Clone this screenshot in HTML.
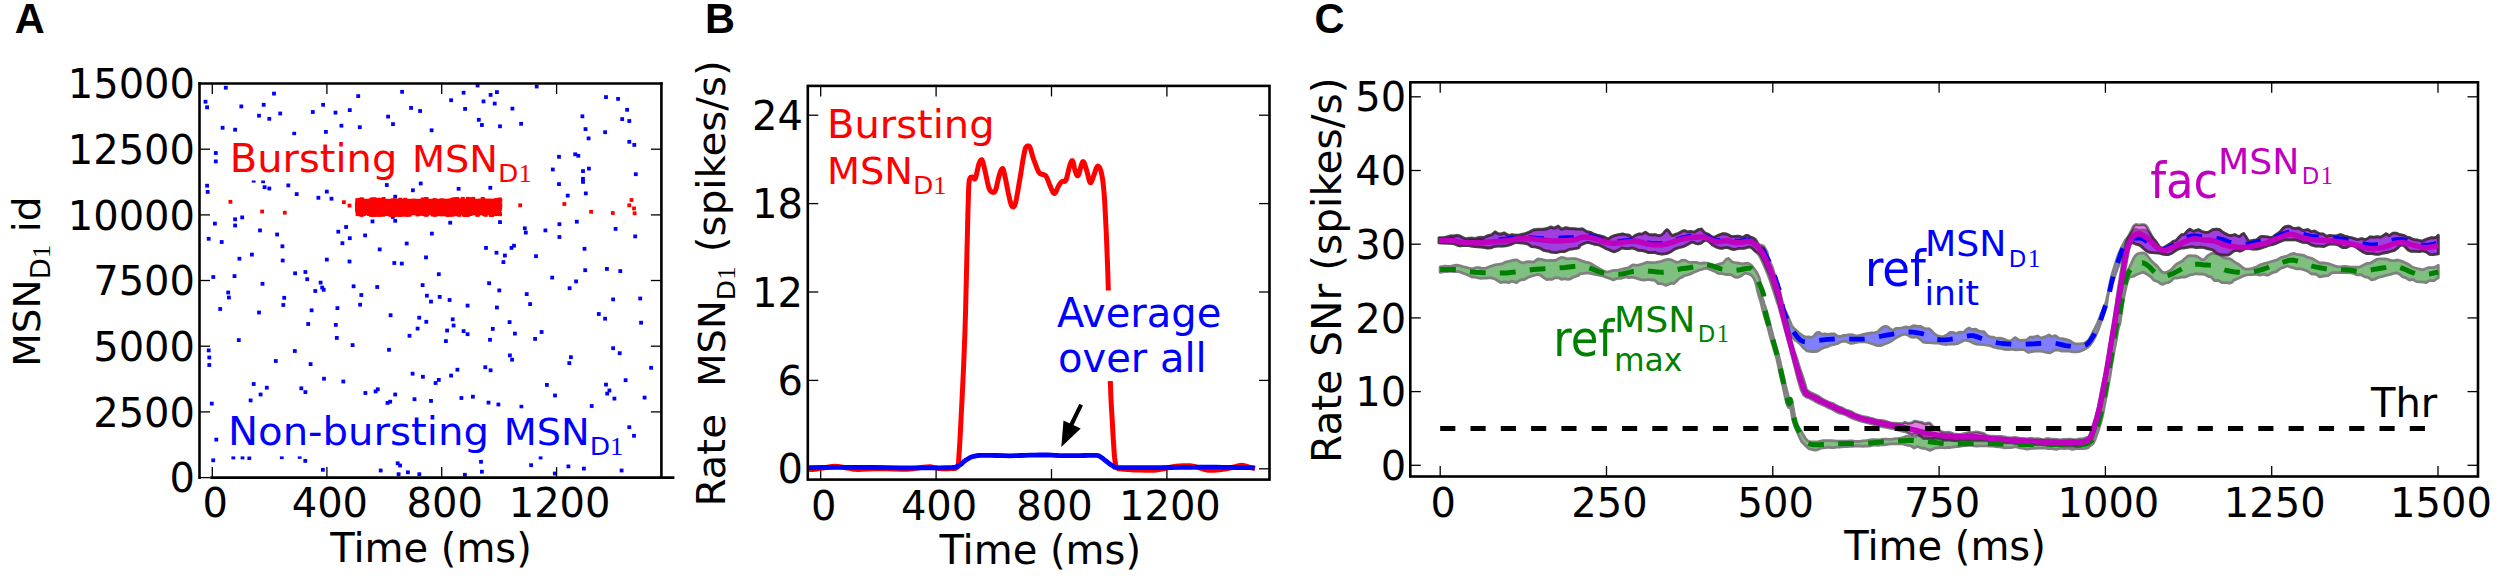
<!DOCTYPE html>
<html lang="en"><head><meta charset="utf-8"><title>Figure</title>
<style>html,body{margin:0;padding:0;background:#fff;}body{width:2500px;height:579px;overflow:hidden;}svg{display:block;}</style>
</head><body>
<svg width="2500" height="579" viewBox="0 0 2500 579" font-family='"DejaVu Sans", "Liberation Sans", sans-serif' font-size="40">
<rect width="2500" height="579" fill="#fff"/>
<g id="panelA">
<g fill="#0000ff">
<rect x="223.9" y="85.8" width="3.8" height="3.8"/>
<rect x="272.1" y="91.7" width="3.8" height="3.8"/>
<rect x="203.6" y="99.8" width="3.8" height="3.8"/>
<rect x="205.2" y="105.4" width="3.8" height="3.8"/>
<rect x="239.4" y="104.5" width="3.8" height="3.8"/>
<rect x="261.8" y="102.9" width="3.8" height="3.8"/>
<rect x="257.1" y="113.8" width="3.8" height="3.8"/>
<rect x="267.4" y="116.9" width="3.8" height="3.8"/>
<rect x="278.3" y="111.6" width="3.8" height="3.8"/>
<rect x="220.7" y="125.9" width="3.8" height="3.8"/>
<rect x="233.2" y="127.8" width="3.8" height="3.8"/>
<rect x="292.3" y="131.8" width="3.8" height="3.8"/>
<rect x="310.9" y="110.1" width="3.8" height="3.8"/>
<rect x="321.2" y="102.9" width="3.8" height="3.8"/>
<rect x="333.6" y="110.7" width="3.8" height="3.8"/>
<rect x="347.9" y="108.2" width="3.8" height="3.8"/>
<rect x="356.3" y="94.2" width="3.8" height="3.8"/>
<rect x="339.5" y="123.8" width="3.8" height="3.8"/>
<rect x="357.9" y="125.3" width="3.8" height="3.8"/>
<rect x="324.0" y="130.0" width="3.8" height="3.8"/>
<rect x="386.2" y="114.7" width="3.8" height="3.8"/>
<rect x="391.1" y="122.2" width="3.8" height="3.8"/>
<rect x="400.2" y="89.9" width="3.8" height="3.8"/>
<rect x="409.2" y="106.0" width="3.8" height="3.8"/>
<rect x="418.2" y="109.1" width="3.8" height="3.8"/>
<rect x="429.7" y="128.4" width="3.8" height="3.8"/>
<rect x="213.9" y="151.1" width="3.8" height="3.8"/>
<rect x="213.9" y="159.5" width="3.8" height="3.8"/>
<rect x="205.2" y="183.8" width="3.8" height="3.8"/>
<rect x="205.8" y="190.0" width="3.8" height="3.8"/>
<rect x="262.7" y="185.3" width="3.8" height="3.8"/>
<rect x="267.4" y="186.6" width="3.8" height="3.8"/>
<rect x="286.4" y="183.5" width="3.8" height="3.8"/>
<rect x="294.8" y="192.2" width="3.8" height="3.8"/>
<rect x="316.5" y="195.9" width="3.8" height="3.8"/>
<rect x="324.9" y="189.7" width="3.8" height="3.8"/>
<rect x="329.6" y="196.8" width="3.8" height="3.8"/>
<rect x="384.9" y="183.1" width="3.8" height="3.8"/>
<rect x="411.0" y="188.4" width="3.8" height="3.8"/>
<rect x="418.8" y="181.6" width="3.8" height="3.8"/>
<rect x="213.0" y="221.7" width="3.8" height="3.8"/>
<rect x="233.2" y="217.4" width="3.8" height="3.8"/>
<rect x="233.2" y="223.6" width="3.8" height="3.8"/>
<rect x="240.3" y="215.5" width="3.8" height="3.8"/>
<rect x="258.1" y="228.5" width="3.8" height="3.8"/>
<rect x="275.2" y="232.6" width="3.8" height="3.8"/>
<rect x="206.8" y="236.9" width="3.8" height="3.8"/>
<rect x="219.8" y="240.1" width="3.8" height="3.8"/>
<rect x="280.5" y="244.4" width="3.8" height="3.8"/>
<rect x="336.4" y="229.8" width="3.8" height="3.8"/>
<rect x="344.2" y="225.1" width="3.8" height="3.8"/>
<rect x="340.5" y="241.3" width="3.8" height="3.8"/>
<rect x="347.9" y="236.3" width="3.8" height="3.8"/>
<rect x="363.2" y="233.5" width="3.8" height="3.8"/>
<rect x="370.6" y="219.5" width="3.8" height="3.8"/>
<rect x="393.3" y="218.9" width="3.8" height="3.8"/>
<rect x="404.8" y="241.6" width="3.8" height="3.8"/>
<rect x="430.0" y="231.7" width="3.8" height="3.8"/>
<rect x="377.8" y="247.5" width="3.8" height="3.8"/>
<rect x="251.8" y="178.8" width="3.8" height="3.8"/>
<rect x="261.2" y="179.4" width="3.8" height="3.8"/>
<rect x="475.7" y="83.6" width="3.8" height="3.8"/>
<rect x="534.8" y="84.6" width="3.8" height="3.8"/>
<rect x="461.7" y="90.8" width="3.8" height="3.8"/>
<rect x="449.2" y="98.3" width="3.8" height="3.8"/>
<rect x="463.2" y="107.0" width="3.8" height="3.8"/>
<rect x="481.6" y="99.5" width="3.8" height="3.8"/>
<rect x="488.7" y="93.0" width="3.8" height="3.8"/>
<rect x="495.0" y="90.2" width="3.8" height="3.8"/>
<rect x="492.8" y="101.7" width="3.8" height="3.8"/>
<rect x="510.5" y="106.7" width="3.8" height="3.8"/>
<rect x="476.9" y="117.9" width="3.8" height="3.8"/>
<rect x="480.0" y="123.1" width="3.8" height="3.8"/>
<rect x="498.1" y="124.4" width="3.8" height="3.8"/>
<rect x="519.2" y="121.9" width="3.8" height="3.8"/>
<rect x="604.1" y="95.2" width="3.8" height="3.8"/>
<rect x="616.2" y="97.0" width="3.8" height="3.8"/>
<rect x="625.2" y="107.9" width="3.8" height="3.8"/>
<rect x="580.5" y="114.4" width="3.8" height="3.8"/>
<rect x="620.3" y="117.2" width="3.8" height="3.8"/>
<rect x="627.4" y="119.1" width="3.8" height="3.8"/>
<rect x="583.6" y="127.2" width="3.8" height="3.8"/>
<rect x="603.2" y="130.3" width="3.8" height="3.8"/>
<rect x="586.7" y="136.5" width="3.8" height="3.8"/>
<rect x="627.4" y="139.9" width="3.8" height="3.8"/>
<rect x="632.4" y="143.0" width="3.8" height="3.8"/>
<rect x="557.1" y="154.9" width="3.8" height="3.8"/>
<rect x="573.3" y="152.4" width="3.8" height="3.8"/>
<rect x="576.4" y="153.9" width="3.8" height="3.8"/>
<rect x="550.9" y="167.6" width="3.8" height="3.8"/>
<rect x="581.1" y="169.2" width="3.8" height="3.8"/>
<rect x="587.0" y="166.7" width="3.8" height="3.8"/>
<rect x="581.1" y="176.9" width="3.8" height="3.8"/>
<rect x="581.1" y="180.0" width="3.8" height="3.8"/>
<rect x="633.9" y="172.3" width="3.8" height="3.8"/>
<rect x="557.1" y="182.2" width="3.8" height="3.8"/>
<rect x="583.9" y="191.5" width="3.8" height="3.8"/>
<rect x="565.8" y="193.7" width="3.8" height="3.8"/>
<rect x="456.7" y="186.9" width="3.8" height="3.8"/>
<rect x="488.4" y="185.9" width="3.8" height="3.8"/>
<rect x="448.3" y="220.8" width="3.8" height="3.8"/>
<rect x="498.1" y="220.2" width="3.8" height="3.8"/>
<rect x="522.9" y="226.4" width="3.8" height="3.8"/>
<rect x="523.9" y="230.7" width="3.8" height="3.8"/>
<rect x="543.5" y="228.5" width="3.8" height="3.8"/>
<rect x="557.5" y="222.3" width="3.8" height="3.8"/>
<rect x="557.5" y="235.1" width="3.8" height="3.8"/>
<rect x="574.9" y="219.8" width="3.8" height="3.8"/>
<rect x="613.7" y="227.0" width="3.8" height="3.8"/>
<rect x="633.3" y="234.5" width="3.8" height="3.8"/>
<rect x="484.1" y="246.0" width="3.8" height="3.8"/>
<rect x="509.6" y="246.0" width="3.8" height="3.8"/>
<rect x="512.1" y="243.8" width="3.8" height="3.8"/>
<rect x="582.6" y="246.9" width="3.8" height="3.8"/>
<rect x="250.0" y="252.7" width="3.8" height="3.8"/>
<rect x="237.5" y="256.8" width="3.8" height="3.8"/>
<rect x="280.8" y="258.6" width="3.8" height="3.8"/>
<rect x="324.9" y="257.7" width="3.8" height="3.8"/>
<rect x="347.6" y="259.6" width="3.8" height="3.8"/>
<rect x="392.4" y="261.1" width="3.8" height="3.8"/>
<rect x="399.9" y="261.7" width="3.8" height="3.8"/>
<rect x="424.1" y="255.5" width="3.8" height="3.8"/>
<rect x="211.4" y="275.1" width="3.8" height="3.8"/>
<rect x="232.6" y="274.2" width="3.8" height="3.8"/>
<rect x="293.2" y="271.4" width="3.8" height="3.8"/>
<rect x="303.5" y="270.1" width="3.8" height="3.8"/>
<rect x="305.3" y="277.3" width="3.8" height="3.8"/>
<rect x="318.7" y="280.7" width="3.8" height="3.8"/>
<rect x="320.3" y="285.7" width="3.8" height="3.8"/>
<rect x="321.8" y="287.9" width="3.8" height="3.8"/>
<rect x="313.4" y="289.1" width="3.8" height="3.8"/>
<rect x="260.6" y="281.9" width="3.8" height="3.8"/>
<rect x="351.7" y="284.4" width="3.8" height="3.8"/>
<rect x="375.3" y="285.1" width="3.8" height="3.8"/>
<rect x="420.7" y="283.2" width="3.8" height="3.8"/>
<rect x="436.9" y="272.3" width="3.8" height="3.8"/>
<rect x="226.3" y="290.6" width="3.8" height="3.8"/>
<rect x="227.0" y="295.6" width="3.8" height="3.8"/>
<rect x="282.3" y="295.9" width="3.8" height="3.8"/>
<rect x="281.4" y="303.1" width="3.8" height="3.8"/>
<rect x="359.4" y="293.1" width="3.8" height="3.8"/>
<rect x="358.2" y="302.8" width="3.8" height="3.8"/>
<rect x="425.0" y="293.8" width="3.8" height="3.8"/>
<rect x="429.1" y="299.7" width="3.8" height="3.8"/>
<rect x="437.8" y="295.0" width="3.8" height="3.8"/>
<rect x="218.3" y="307.1" width="3.8" height="3.8"/>
<rect x="257.1" y="310.6" width="3.8" height="3.8"/>
<rect x="309.7" y="308.4" width="3.8" height="3.8"/>
<rect x="335.5" y="306.2" width="3.8" height="3.8"/>
<rect x="388.7" y="313.3" width="3.8" height="3.8"/>
<rect x="417.3" y="315.8" width="3.8" height="3.8"/>
<rect x="424.4" y="319.9" width="3.8" height="3.8"/>
<rect x="306.3" y="322.1" width="3.8" height="3.8"/>
<rect x="333.9" y="323.0" width="3.8" height="3.8"/>
<rect x="415.7" y="326.7" width="3.8" height="3.8"/>
<rect x="407.6" y="333.9" width="3.8" height="3.8"/>
<rect x="236.9" y="338.2" width="3.8" height="3.8"/>
<rect x="334.9" y="336.0" width="3.8" height="3.8"/>
<rect x="350.7" y="343.2" width="3.8" height="3.8"/>
<rect x="292.9" y="349.1" width="3.8" height="3.8"/>
<rect x="387.1" y="347.9" width="3.8" height="3.8"/>
<rect x="206.8" y="348.5" width="3.8" height="3.8"/>
<rect x="207.4" y="355.6" width="3.8" height="3.8"/>
<rect x="207.4" y="363.1" width="3.8" height="3.8"/>
<rect x="273.9" y="359.1" width="3.8" height="3.8"/>
<rect x="308.7" y="362.2" width="3.8" height="3.8"/>
<rect x="322.1" y="376.8" width="3.8" height="3.8"/>
<rect x="341.4" y="379.6" width="3.8" height="3.8"/>
<rect x="410.7" y="371.8" width="3.8" height="3.8"/>
<rect x="421.0" y="374.9" width="3.8" height="3.8"/>
<rect x="433.7" y="381.1" width="3.8" height="3.8"/>
<rect x="436.9" y="378.0" width="3.8" height="3.8"/>
<rect x="251.8" y="382.1" width="3.8" height="3.8"/>
<rect x="264.9" y="385.8" width="3.8" height="3.8"/>
<rect x="299.4" y="386.4" width="3.8" height="3.8"/>
<rect x="303.5" y="390.2" width="3.8" height="3.8"/>
<rect x="258.7" y="392.6" width="3.8" height="3.8"/>
<rect x="363.5" y="391.1" width="3.8" height="3.8"/>
<rect x="373.7" y="389.5" width="3.8" height="3.8"/>
<rect x="375.9" y="387.4" width="3.8" height="3.8"/>
<rect x="393.3" y="392.6" width="3.8" height="3.8"/>
<rect x="248.7" y="398.5" width="3.8" height="3.8"/>
<rect x="209.9" y="401.7" width="3.8" height="3.8"/>
<rect x="385.6" y="401.0" width="3.8" height="3.8"/>
<rect x="388.3" y="399.8" width="3.8" height="3.8"/>
<rect x="412.6" y="397.3" width="3.8" height="3.8"/>
<rect x="326.5" y="413.8" width="3.8" height="3.8"/>
<rect x="415.1" y="416.0" width="3.8" height="3.8"/>
<rect x="430.6" y="414.4" width="3.8" height="3.8"/>
<rect x="494.6" y="250.8" width="3.8" height="3.8"/>
<rect x="503.0" y="253.6" width="3.8" height="3.8"/>
<rect x="501.5" y="260.2" width="3.8" height="3.8"/>
<rect x="534.1" y="254.3" width="3.8" height="3.8"/>
<rect x="487.2" y="281.3" width="3.8" height="3.8"/>
<rect x="497.4" y="288.5" width="3.8" height="3.8"/>
<rect x="550.3" y="275.7" width="3.8" height="3.8"/>
<rect x="574.2" y="279.5" width="3.8" height="3.8"/>
<rect x="567.7" y="286.3" width="3.8" height="3.8"/>
<rect x="583.3" y="268.3" width="3.8" height="3.8"/>
<rect x="605.0" y="267.0" width="3.8" height="3.8"/>
<rect x="618.4" y="269.2" width="3.8" height="3.8"/>
<rect x="447.7" y="298.1" width="3.8" height="3.8"/>
<rect x="465.7" y="303.7" width="3.8" height="3.8"/>
<rect x="495.0" y="305.6" width="3.8" height="3.8"/>
<rect x="524.8" y="292.2" width="3.8" height="3.8"/>
<rect x="528.2" y="302.2" width="3.8" height="3.8"/>
<rect x="611.2" y="297.5" width="3.8" height="3.8"/>
<rect x="638.3" y="296.6" width="3.8" height="3.8"/>
<rect x="596.9" y="312.1" width="3.8" height="3.8"/>
<rect x="603.2" y="316.8" width="3.8" height="3.8"/>
<rect x="450.8" y="317.4" width="3.8" height="3.8"/>
<rect x="451.7" y="323.6" width="3.8" height="3.8"/>
<rect x="445.2" y="328.6" width="3.8" height="3.8"/>
<rect x="461.7" y="329.2" width="3.8" height="3.8"/>
<rect x="465.7" y="332.3" width="3.8" height="3.8"/>
<rect x="444.0" y="339.2" width="3.8" height="3.8"/>
<rect x="507.7" y="320.2" width="3.8" height="3.8"/>
<rect x="490.9" y="327.0" width="3.8" height="3.8"/>
<rect x="513.0" y="331.7" width="3.8" height="3.8"/>
<rect x="488.1" y="337.9" width="3.8" height="3.8"/>
<rect x="539.7" y="330.1" width="3.8" height="3.8"/>
<rect x="533.2" y="337.0" width="3.8" height="3.8"/>
<rect x="639.2" y="320.8" width="3.8" height="3.8"/>
<rect x="611.2" y="346.3" width="3.8" height="3.8"/>
<rect x="617.8" y="351.3" width="3.8" height="3.8"/>
<rect x="508.0" y="353.5" width="3.8" height="3.8"/>
<rect x="510.2" y="357.8" width="3.8" height="3.8"/>
<rect x="569.0" y="355.3" width="3.8" height="3.8"/>
<rect x="567.4" y="361.2" width="3.8" height="3.8"/>
<rect x="483.4" y="365.3" width="3.8" height="3.8"/>
<rect x="488.7" y="368.4" width="3.8" height="3.8"/>
<rect x="455.5" y="367.8" width="3.8" height="3.8"/>
<rect x="449.2" y="373.7" width="3.8" height="3.8"/>
<rect x="649.2" y="365.9" width="3.8" height="3.8"/>
<rect x="623.7" y="378.3" width="3.8" height="3.8"/>
<rect x="545.0" y="383.0" width="3.8" height="3.8"/>
<rect x="604.1" y="382.7" width="3.8" height="3.8"/>
<rect x="607.5" y="388.6" width="3.8" height="3.8"/>
<rect x="605.3" y="391.7" width="3.8" height="3.8"/>
<rect x="612.5" y="396.7" width="3.8" height="3.8"/>
<rect x="553.1" y="393.6" width="3.8" height="3.8"/>
<rect x="642.7" y="395.7" width="3.8" height="3.8"/>
<rect x="459.5" y="396.1" width="3.8" height="3.8"/>
<rect x="471.0" y="394.8" width="3.8" height="3.8"/>
<rect x="486.6" y="400.7" width="3.8" height="3.8"/>
<rect x="496.5" y="402.6" width="3.8" height="3.8"/>
<rect x="519.5" y="404.8" width="3.8" height="3.8"/>
<rect x="589.8" y="404.1" width="3.8" height="3.8"/>
<rect x="214.4" y="437.7" width="3.8" height="3.8"/>
<rect x="211.3" y="458.4" width="3.8" height="3.8"/>
<rect x="231.4" y="455.6" width="3.8" height="3.8"/>
<rect x="240.6" y="455.6" width="3.8" height="3.8"/>
<rect x="247.4" y="456.2" width="3.8" height="3.8"/>
<rect x="279.9" y="455.3" width="3.8" height="3.8"/>
<rect x="297.8" y="455.0" width="3.8" height="3.8"/>
<rect x="303.4" y="459.0" width="3.8" height="3.8"/>
<rect x="321.0" y="467.9" width="3.8" height="3.8"/>
<rect x="378.8" y="468.6" width="3.8" height="3.8"/>
<rect x="395.8" y="461.4" width="3.8" height="3.8"/>
<rect x="398.2" y="463.6" width="3.8" height="3.8"/>
<rect x="406.0" y="470.4" width="3.8" height="3.8"/>
<rect x="417.4" y="472.3" width="3.8" height="3.8"/>
<rect x="396.7" y="472.3" width="3.8" height="3.8"/>
<rect x="429.1" y="399.0" width="3.8" height="3.8"/>
<rect x="627.4" y="425.3" width="3.8" height="3.8"/>
<rect x="632.1" y="433.9" width="3.8" height="3.8"/>
<rect x="479.1" y="459.9" width="3.8" height="3.8"/>
<rect x="480.0" y="469.8" width="3.8" height="3.8"/>
<rect x="463.0" y="472.9" width="3.8" height="3.8"/>
<rect x="529.2" y="463.3" width="3.8" height="3.8"/>
<rect x="538.7" y="455.6" width="3.8" height="3.8"/>
<rect x="566.5" y="464.5" width="3.8" height="3.8"/>
<rect x="582.0" y="466.7" width="3.8" height="3.8"/>
<rect x="552.9" y="471.6" width="3.8" height="3.8"/>
<rect x="619.7" y="468.6" width="3.8" height="3.8"/>
<rect x="393.3" y="194.8" width="3.8" height="3.8"/>
<rect x="390.9" y="215.0" width="3.8" height="3.8"/>
</g>
<g fill="#ff0000">
<rect x="228.5" y="199.9" width="3.8" height="3.8"/>
<rect x="260.2" y="209.6" width="3.8" height="3.8"/>
<rect x="282.9" y="210.8" width="3.8" height="3.8"/>
<rect x="342.0" y="200.3" width="3.8" height="3.8"/>
<rect x="347.6" y="203.7" width="3.8" height="3.8"/>
<rect x="518.3" y="203.4" width="3.8" height="3.8"/>
<rect x="562.4" y="202.1" width="3.8" height="3.8"/>
<rect x="589.2" y="209.9" width="3.8" height="3.8"/>
<rect x="610.9" y="211.1" width="3.8" height="3.8"/>
<rect x="629.6" y="198.1" width="3.8" height="3.8"/>
<rect x="627.4" y="203.4" width="3.8" height="3.8"/>
<rect x="632.1" y="206.5" width="3.8" height="3.8"/>
<rect x="632.7" y="211.4" width="3.8" height="3.8"/>
<rect x="356.5" y="198.8" width="144" height="16.4"/><rect x="389.4" y="212.1" width="4" height="4"/><rect x="444.7" y="211.6" width="4" height="4"/><rect x="392.5" y="213.0" width="4" height="4"/><rect x="432.6" y="198.1" width="4" height="4"/><rect x="388.5" y="212.9" width="4" height="4"/><rect x="461.1" y="198.4" width="4" height="4"/><rect x="398.4" y="212.8" width="4" height="4"/><rect x="440.3" y="212.1" width="4" height="4"/><rect x="411.8" y="198.7" width="4" height="4"/><rect x="480.7" y="197.0" width="4" height="4"/><rect x="392.3" y="212.7" width="4" height="4"/><rect x="415.5" y="212.4" width="4" height="4"/><rect x="438.8" y="199.0" width="4" height="4"/><rect x="477.5" y="199.2" width="4" height="4"/><rect x="455.1" y="197.6" width="4" height="4"/><rect x="457.2" y="212.8" width="4" height="4"/><rect x="396.1" y="212.8" width="4" height="4"/><rect x="368.1" y="198.7" width="4" height="4"/><rect x="358.4" y="197.8" width="4" height="4"/><rect x="361.8" y="211.7" width="4" height="4"/><rect x="434.0" y="199.0" width="4" height="4"/><rect x="497.8" y="197.5" width="4" height="4"/><rect x="490.7" y="212.0" width="4" height="4"/><rect x="377.8" y="212.8" width="4" height="4"/><rect x="406.8" y="212.8" width="4" height="4"/><rect x="421.1" y="198.0" width="4" height="4"/><rect x="443.9" y="212.3" width="4" height="4"/><rect x="445.9" y="212.9" width="4" height="4"/><rect x="494.8" y="198.1" width="4" height="4"/><rect x="467.8" y="212.0" width="4" height="4"/><rect x="443.3" y="211.7" width="4" height="4"/><rect x="421.9" y="212.1" width="4" height="4"/><rect x="460.7" y="196.9" width="4" height="4"/><rect x="492.8" y="212.2" width="4" height="4"/><rect x="380.8" y="212.7" width="4" height="4"/><rect x="398.3" y="197.7" width="4" height="4"/><rect x="493.9" y="198.4" width="4" height="4"/><rect x="448.7" y="212.1" width="4" height="4"/><rect x="448.1" y="212.4" width="4" height="4"/><rect x="451.7" y="197.3" width="4" height="4"/><rect x="366.9" y="211.9" width="4" height="4"/><rect x="394.1" y="198.7" width="4" height="4"/><rect x="400.4" y="212.4" width="4" height="4"/><rect x="404.0" y="211.7" width="4" height="4"/><rect x="439.5" y="212.3" width="4" height="4"/><rect x="421.7" y="212.0" width="4" height="4"/><rect x="360.6" y="211.9" width="4" height="4"/><rect x="489.9" y="213.0" width="4" height="4"/><rect x="435.1" y="199.2" width="4" height="4"/><rect x="461.7" y="212.5" width="4" height="4"/><rect x="433.0" y="212.8" width="4" height="4"/><rect x="372.6" y="197.4" width="4" height="4"/><rect x="483.3" y="199.0" width="4" height="4"/><rect x="424.0" y="197.1" width="4" height="4"/><rect x="450.0" y="198.1" width="4" height="4"/><rect x="404.1" y="212.8" width="4" height="4"/><rect x="471.1" y="196.9" width="4" height="4"/><rect x="431.7" y="211.8" width="4" height="4"/><rect x="486.9" y="198.7" width="4" height="4"/><rect x="425.0" y="212.2" width="4" height="4"/><rect x="390.9" y="198.3" width="4" height="4"/><rect x="422.9" y="198.7" width="4" height="4"/><rect x="466.0" y="211.7" width="4" height="4"/><rect x="494.4" y="211.7" width="4" height="4"/><rect x="400.5" y="212.1" width="4" height="4"/><rect x="439.1" y="211.9" width="4" height="4"/><rect x="416.6" y="211.6" width="4" height="4"/><rect x="468.8" y="211.7" width="4" height="4"/><rect x="441.6" y="198.7" width="4" height="4"/><rect x="444.3" y="212.1" width="4" height="4"/><rect x="463.8" y="212.9" width="4" height="4"/><rect x="421.2" y="197.4" width="4" height="4"/><rect x="469.9" y="197.3" width="4" height="4"/><rect x="488.9" y="212.9" width="4" height="4"/><rect x="372.8" y="212.9" width="4" height="4"/><rect x="450.6" y="198.6" width="4" height="4"/><rect x="471.2" y="198.5" width="4" height="4"/><rect x="465.8" y="196.9" width="4" height="4"/><rect x="449.4" y="212.7" width="4" height="4"/><rect x="475.4" y="212.8" width="4" height="4"/><rect x="474.7" y="199.1" width="4" height="4"/><rect x="360.7" y="198.6" width="4" height="4"/><rect x="370.7" y="198.6" width="4" height="4"/><rect x="433.9" y="198.9" width="4" height="4"/><rect x="390.0" y="211.9" width="4" height="4"/><rect x="391.5" y="212.9" width="4" height="4"/><rect x="493.2" y="211.9" width="4" height="4"/><rect x="475.7" y="212.2" width="4" height="4"/><rect x="377.8" y="197.8" width="4" height="4"/><rect x="369.2" y="212.9" width="4" height="4"/><rect x="439.1" y="198.9" width="4" height="4"/><rect x="376.4" y="212.9" width="4" height="4"/><rect x="451.2" y="212.4" width="4" height="4"/><rect x="482.2" y="212.0" width="4" height="4"/><rect x="384.1" y="211.9" width="4" height="4"/><rect x="465.8" y="213.0" width="4" height="4"/><rect x="455.5" y="197.3" width="4" height="4"/><rect x="424.1" y="212.8" width="4" height="4"/><rect x="467.1" y="198.9" width="4" height="4"/><rect x="482.5" y="198.4" width="4" height="4"/><rect x="492.1" y="198.8" width="4" height="4"/><rect x="466.1" y="197.1" width="4" height="4"/><rect x="483.7" y="212.8" width="4" height="4"/><rect x="381.6" y="197.0" width="4" height="4"/><rect x="368.7" y="212.0" width="4" height="4"/><rect x="420.0" y="198.6" width="4" height="4"/><rect x="403.2" y="197.8" width="4" height="4"/><rect x="447.3" y="198.6" width="4" height="4"/><rect x="433.1" y="212.0" width="4" height="4"/><rect x="371.5" y="198.9" width="4" height="4"/><rect x="430.7" y="212.5" width="4" height="4"/><rect x="463.4" y="212.5" width="4" height="4"/><rect x="370.8" y="199.1" width="4" height="4"/><rect x="450.5" y="211.7" width="4" height="4"/><rect x="452.2" y="198.2" width="4" height="4"/><rect x="381.0" y="198.9" width="4" height="4"/><rect x="370.9" y="212.9" width="4" height="4"/><rect x="434.6" y="212.2" width="4" height="4"/><rect x="467.0" y="198.5" width="4" height="4"/><rect x="463.0" y="212.6" width="4" height="4"/><rect x="369.7" y="197.5" width="4" height="4"/><rect x="361.5" y="211.9" width="4" height="4"/><rect x="480.2" y="199.1" width="4" height="4"/><rect x="405.8" y="211.8" width="4" height="4"/><rect x="439.6" y="198.4" width="4" height="4"/><rect x="381.8" y="212.2" width="4" height="4"/><rect x="471.7" y="198.6" width="4" height="4"/><rect x="478.0" y="198.7" width="4" height="4"/><rect x="436.5" y="212.0" width="4" height="4"/><rect x="359.8" y="212.8" width="4" height="4"/><rect x="400.5" y="212.0" width="4" height="4"/><rect x="494.7" y="212.0" width="4" height="4"/><rect x="359.8" y="197.3" width="4" height="4"/><rect x="465.3" y="212.3" width="4" height="4"/><rect x="383.8" y="211.9" width="4" height="4"/><rect x="371.4" y="197.5" width="4" height="4"/><rect x="374.8" y="198.7" width="4" height="4"/><rect x="359.1" y="212.3" width="4" height="4"/><rect x="432.3" y="212.1" width="4" height="4"/><rect x="454.5" y="197.1" width="4" height="4"/><rect x="457.5" y="198.6" width="4" height="4"/><rect x="488.3" y="198.9" width="4" height="4"/><rect x="424.6" y="197.1" width="4" height="4"/><rect x="475.9" y="212.1" width="4" height="4"/><rect x="455.1" y="212.2" width="4" height="4"/><rect x="398.9" y="212.7" width="4" height="4"/><rect x="418.0" y="211.7" width="4" height="4"/><rect x="407.8" y="212.3" width="4" height="4"/><rect x="387.4" y="211.9" width="4" height="4"/><rect x="375.9" y="197.9" width="4" height="4"/><rect x="355.8" y="198.3" width="4" height="4"/><rect x="497.7" y="198.3" width="4" height="4"/><rect x="355.0" y="207.2" width="4" height="4"/><rect x="497.8" y="207.2" width="4" height="4"/><rect x="355.1" y="204.4" width="4" height="4"/><rect x="498.1" y="204.4" width="4" height="4"/><rect x="355.3" y="203.8" width="4" height="4"/><rect x="497.0" y="203.8" width="4" height="4"/><rect x="355.2" y="208.4" width="4" height="4"/><rect x="497.1" y="208.4" width="4" height="4"/><rect x="356.3" y="205.2" width="4" height="4"/><rect x="498.1" y="205.2" width="4" height="4"/><rect x="355.5" y="201.5" width="4" height="4"/><rect x="497.2" y="201.5" width="4" height="4"/><rect x="355.0" y="202.8" width="4" height="4"/><rect x="498.2" y="202.8" width="4" height="4"/><rect x="356.2" y="206.6" width="4" height="4"/><rect x="497.4" y="206.6" width="4" height="4"/><rect x="356.4" y="212.2" width="4" height="4"/><rect x="498.0" y="212.2" width="4" height="4"/><rect x="355.6" y="211.9" width="4" height="4"/><rect x="497.7" y="211.9" width="4" height="4"/><rect x="355.4" y="198.4" width="4" height="4"/><rect x="498.3" y="198.4" width="4" height="4"/><rect x="354.9" y="202.6" width="4" height="4"/><rect x="497.6" y="202.6" width="4" height="4"/><rect x="355.8" y="199.3" width="4" height="4"/><rect x="497.1" y="199.3" width="4" height="4"/>
</g>
<rect x="227" y="135.3" width="307" height="45.2" fill="#fff"/>
<rect x="226" y="408.5" width="400" height="47.9" fill="#fff"/>
<line x1="198.1" y1="83.5" x2="662.7" y2="83.5" stroke="#000" stroke-width="2.6" />
<line x1="199.5" y1="82.2" x2="199.5" y2="478.9" stroke="#000" stroke-width="2.6" />
<line x1="661.4" y1="82.2" x2="661.4" y2="478.9" stroke="#000" stroke-width="2.6" />
<line x1="210.3" y1="477.6" x2="674.4" y2="477.6" stroke="#000" stroke-width="2.6" />
<line x1="199.5" y1="477.6" x2="210.3" y2="477.6" stroke="#000" stroke-width="1.3" />
<line x1="212.3" y1="477.6" x2="212.3" y2="467.1" stroke="#000" stroke-width="1.3" />
<line x1="212.3" y1="83.5" x2="212.3" y2="94.0" stroke="#000" stroke-width="1.3" />
<text x="215.3" y="517.1" font-size="40" text-anchor="middle" fill="#000" >0</text>
<line x1="326.9" y1="477.6" x2="326.9" y2="467.1" stroke="#000" stroke-width="1.3" />
<line x1="326.9" y1="83.5" x2="326.9" y2="94.0" stroke="#000" stroke-width="1.3" />
<text x="329.9" y="517.1" font-size="40" text-anchor="middle" fill="#000" >400</text>
<line x1="441.7" y1="477.6" x2="441.7" y2="467.1" stroke="#000" stroke-width="1.3" />
<line x1="441.7" y1="83.5" x2="441.7" y2="94.0" stroke="#000" stroke-width="1.3" />
<text x="444.7" y="517.1" font-size="40" text-anchor="middle" fill="#000" >800</text>
<line x1="556.6" y1="477.6" x2="556.6" y2="467.1" stroke="#000" stroke-width="1.3" />
<line x1="556.6" y1="83.5" x2="556.6" y2="94.0" stroke="#000" stroke-width="1.3" />
<text x="559.6" y="517.1" font-size="40" text-anchor="middle" fill="#000" >1200</text>
<text x="195.0" y="492.2" font-size="40" text-anchor="end" fill="#000" >0</text>
<line x1="199.5" y1="411.9" x2="210.0" y2="411.9" stroke="#000" stroke-width="1.3" />
<line x1="661.4" y1="411.9" x2="650.9" y2="411.9" stroke="#000" stroke-width="1.3" />
<text x="195.0" y="426.5" font-size="40" text-anchor="end" fill="#000" >2500</text>
<line x1="199.5" y1="346.2" x2="210.0" y2="346.2" stroke="#000" stroke-width="1.3" />
<line x1="661.4" y1="346.2" x2="650.9" y2="346.2" stroke="#000" stroke-width="1.3" />
<text x="195.0" y="360.8" font-size="40" text-anchor="end" fill="#000" >5000</text>
<line x1="199.5" y1="280.5" x2="210.0" y2="280.5" stroke="#000" stroke-width="1.3" />
<line x1="661.4" y1="280.5" x2="650.9" y2="280.5" stroke="#000" stroke-width="1.3" />
<text x="195.0" y="295.1" font-size="40" text-anchor="end" fill="#000" >7500</text>
<line x1="199.5" y1="214.9" x2="210.0" y2="214.9" stroke="#000" stroke-width="1.3" />
<line x1="661.4" y1="214.9" x2="650.9" y2="214.9" stroke="#000" stroke-width="1.3" />
<text x="195.0" y="229.5" font-size="40" text-anchor="end" fill="#000" >10000</text>
<line x1="199.5" y1="149.2" x2="210.0" y2="149.2" stroke="#000" stroke-width="1.3" />
<line x1="661.4" y1="149.2" x2="650.9" y2="149.2" stroke="#000" stroke-width="1.3" />
<text x="195.0" y="163.8" font-size="40" text-anchor="end" fill="#000" >12500</text>
<text x="195.0" y="98.1" font-size="40" text-anchor="end" fill="#000" >15000</text>
<text x="431.0" y="562.0" font-size="40" text-anchor="middle" fill="#000" >Time (ms)</text>
<text transform="translate(40.4,366.8) rotate(-90) scale(1,0.957)" font-size="39" fill="#000" text-anchor="start" >MSN<tspan font-size="27.3" dy="10.5">D</tspan><tspan font-size="27.3" font-family='"Liberation Serif", "DejaVu Serif", serif'>1</tspan><tspan dy="-10.5"> id</tspan></text>
<text transform="translate(229.8,171.6) scale(1,0.957)" font-size="40" fill="#ff0000" text-anchor="start" >Bursting <tspan font-size="38.3" dx="2">MSN</tspan><tspan font-size="26.5" dy="10.5">D</tspan><tspan font-size="26.5" font-family='"Liberation Serif", "DejaVu Serif", serif'>1</tspan></text>
<text transform="translate(228,445) scale(1,0.957)" font-size="40.2" fill="#0000ff" text-anchor="start" >Non-bursting <tspan font-size="38.3" dx="2">MSN</tspan><tspan font-size="26.5" dy="10.5">D</tspan><tspan font-size="26.5" font-family='"Liberation Serif", "DejaVu Serif", serif'>1</tspan></text>
</g>
<text transform="translate(14.8,33.1) scale(1,1.03)" font-size="41.5" font-weight="bold" font-family='"Liberation Sans", sans-serif'>A</text>
<g id="panelB">
<clipPath id="clipB"><rect x="807.8" y="85.9" width="461.7" height="393.7"/></clipPath>
<line x1="820.7" y1="479.6" x2="820.7" y2="469.1" stroke="#000" stroke-width="1.3" />
<line x1="820.7" y1="85.9" x2="820.7" y2="96.4" stroke="#000" stroke-width="1.3" />
<text x="823.7" y="520.1" font-size="40" text-anchor="middle" fill="#000" >0</text>
<line x1="936.1" y1="479.6" x2="936.1" y2="469.1" stroke="#000" stroke-width="1.3" />
<line x1="936.1" y1="85.9" x2="936.1" y2="96.4" stroke="#000" stroke-width="1.3" />
<text x="939.1" y="520.1" font-size="40" text-anchor="middle" fill="#000" >400</text>
<line x1="1051.5" y1="479.6" x2="1051.5" y2="469.1" stroke="#000" stroke-width="1.3" />
<line x1="1051.5" y1="85.9" x2="1051.5" y2="96.4" stroke="#000" stroke-width="1.3" />
<text x="1054.5" y="520.1" font-size="40" text-anchor="middle" fill="#000" >800</text>
<line x1="1166.9" y1="479.6" x2="1166.9" y2="469.1" stroke="#000" stroke-width="1.3" />
<line x1="1166.9" y1="85.9" x2="1166.9" y2="96.4" stroke="#000" stroke-width="1.3" />
<text x="1169.9" y="520.1" font-size="40" text-anchor="middle" fill="#000" >1200</text>
<line x1="807.8" y1="468.8" x2="818.3" y2="468.8" stroke="#000" stroke-width="1.3" />
<line x1="1269.5" y1="468.8" x2="1259.0" y2="468.8" stroke="#000" stroke-width="1.3" />
<text x="803.0" y="483.4" font-size="40" text-anchor="end" fill="#000" >0</text>
<line x1="807.8" y1="380.4" x2="818.3" y2="380.4" stroke="#000" stroke-width="1.3" />
<line x1="1269.5" y1="380.4" x2="1259.0" y2="380.4" stroke="#000" stroke-width="1.3" />
<text x="803.0" y="395.0" font-size="40" text-anchor="end" fill="#000" >6</text>
<line x1="807.8" y1="292.0" x2="818.3" y2="292.0" stroke="#000" stroke-width="1.3" />
<line x1="1269.5" y1="292.0" x2="1259.0" y2="292.0" stroke="#000" stroke-width="1.3" />
<text x="803.0" y="306.6" font-size="40" text-anchor="end" fill="#000" >12</text>
<line x1="807.8" y1="203.6" x2="818.3" y2="203.6" stroke="#000" stroke-width="1.3" />
<line x1="1269.5" y1="203.6" x2="1259.0" y2="203.6" stroke="#000" stroke-width="1.3" />
<text x="803.0" y="218.2" font-size="40" text-anchor="end" fill="#000" >18</text>
<line x1="807.8" y1="115.2" x2="818.3" y2="115.2" stroke="#000" stroke-width="1.3" />
<line x1="1269.5" y1="115.2" x2="1259.0" y2="115.2" stroke="#000" stroke-width="1.3" />
<text x="803.0" y="129.8" font-size="40" text-anchor="end" fill="#000" >24</text>
<g clip-path="url(#clipB)" fill="none" stroke-linejoin="round">
<polyline points="800.0,468.5 802.2,468.7 805.3,469.0 808.8,469.3 812.0,469.4 814.8,469.2 817.5,468.9 820.2,468.4 823.0,468.0 825.9,467.5 828.9,466.9 832.0,466.4 835.0,466.2 838.0,466.4 841.1,466.9 844.1,467.5 847.0,468.0 849.6,468.4 851.9,468.9 854.5,469.2 858.0,469.4 862.6,469.3 868.0,469.0 873.9,468.7 880.0,468.6 886.8,468.7 894.2,469.0 901.3,469.2 907.0,469.3 910.9,469.1 913.5,468.8 915.6,468.4 918.0,468.0 920.9,467.6 923.8,467.2 926.7,466.9 929.5,466.8 932.2,467.1 934.8,467.6 937.4,468.2 940.0,468.6 942.6,468.8 945.2,468.8 947.7,468.8 950.0,468.6 952.1,468.6 954.2,468.6 955.9,468.2 957.3,467.0 958.1,465.7 958.4,464.3 958.6,461.3 959.0,455.0 959.7,444.6 960.4,431.1 961.2,415.8 962.0,400.0 962.8,383.8 963.6,366.6 964.3,348.6 965.0,330.0 965.6,310.0 966.1,288.8 966.6,268.1 967.0,250.0 967.4,234.7 967.7,221.2 968.0,209.7 968.3,200.0 968.5,192.5 968.7,187.1 969.0,183.2 969.3,180.1 970.0,178.1 970.7,177.3 971.6,177.2 972.4,177.1 973.1,177.5 973.9,178.5 974.6,179.1 975.4,178.4 976.2,175.7 977.1,171.6 978.0,167.4 978.8,164.2 979.6,162.1 980.4,160.6 981.1,159.8 981.9,159.8 982.5,160.9 983.1,162.8 983.7,165.4 984.5,168.5 985.4,172.5 986.4,177.3 987.4,182.0 988.3,185.7 989.0,188.1 989.6,189.7 990.2,190.6 990.9,191.4 991.9,192.0 993.0,192.4 994.2,192.2 995.2,190.9 996.3,188.0 997.2,183.8 998.2,179.4 999.1,175.8 1000.0,173.0 1000.9,170.5 1001.8,168.9 1002.6,168.5 1003.4,169.7 1004.1,172.3 1004.8,175.7 1005.6,179.3 1006.4,183.3 1007.3,188.0 1008.2,192.6 1009.1,196.5 1009.8,199.8 1010.6,202.8 1011.3,205.1 1012.1,206.5 1012.9,207.0 1013.7,206.8 1014.6,205.6 1015.5,203.0 1016.5,198.5 1017.6,192.5 1018.7,185.8 1019.8,179.3 1021.0,172.5 1022.1,165.2 1023.2,158.5 1024.2,153.4 1024.8,150.2 1025.3,148.5 1025.7,147.6 1026.3,146.9 1027.1,146.2 1028.0,145.9 1028.9,146.0 1029.8,146.9 1030.5,148.6 1031.2,151.1 1032.0,154.0 1032.8,156.8 1033.8,159.8 1035.0,162.9 1036.1,166.0 1037.1,168.5 1037.9,170.3 1038.5,171.7 1039.2,172.7 1040.1,173.7 1041.4,174.2 1042.9,174.4 1044.4,174.8 1045.7,175.8 1046.9,177.8 1048.0,180.4 1049.0,183.2 1050.1,185.7 1051.1,188.2 1052.2,190.7 1053.3,192.7 1054.4,193.5 1055.5,192.6 1056.6,190.4 1057.7,187.8 1058.7,185.7 1059.6,184.3 1060.4,183.2 1061.3,182.2 1062.1,181.4 1063.1,181.2 1064.1,181.4 1065.1,181.3 1066.0,180.1 1066.9,177.4 1067.8,173.5 1068.7,169.5 1069.5,166.3 1070.3,164.0 1071.0,162.0 1071.8,160.8 1072.5,160.7 1073.2,162.2 1073.8,165.0 1074.4,168.1 1075.1,170.6 1075.8,172.7 1076.5,174.6 1077.3,175.8 1078.1,175.8 1079.0,173.9 1079.9,170.4 1080.8,166.8 1081.6,164.2 1082.2,162.7 1082.7,161.8 1083.2,161.6 1083.7,162.0 1084.4,163.3 1085.1,165.4 1085.9,168.0 1086.7,170.6 1087.6,173.8 1088.5,177.6 1089.4,180.9 1090.2,182.7 1091.0,182.6 1091.7,181.2 1092.5,179.1 1093.2,177.1 1094.0,175.0 1094.8,172.6 1095.5,170.3 1096.2,168.5 1096.8,167.3 1097.3,166.5 1097.8,166.1 1098.4,166.3 1099.1,167.0 1099.9,168.2 1100.7,170.1 1101.4,172.8 1102.1,176.3 1102.8,180.5 1103.4,185.7 1104.0,192.2 1104.6,200.1 1105.1,209.2 1105.6,219.5 1106.2,231.1 1106.7,243.4 1107.2,256.8 1107.8,271.8 1108.3,289.3 1108.8,311.5 1109.4,337.2 1109.9,362.4 1110.4,383.0 1110.9,397.5 1111.5,408.3 1112.0,416.9 1112.5,425.0 1112.9,432.7 1113.3,439.3 1113.7,445.0 1114.0,450.0 1114.3,454.3 1114.6,457.8 1115.0,460.6 1115.3,463.0 1115.6,464.9 1116.0,466.3 1116.4,467.2 1117.0,468.0 1117.8,468.5 1118.7,468.7 1119.8,468.7 1121.0,468.8 1122.3,469.0 1123.6,469.2 1125.2,469.3 1127.0,469.5 1129.1,469.6 1131.4,469.8 1134.0,469.9 1137.0,470.0 1140.7,470.1 1144.9,470.2 1149.1,470.3 1153.0,470.2 1156.3,469.9 1159.3,469.5 1162.2,469.0 1165.0,468.5 1167.8,467.9 1170.4,467.3 1173.1,466.7 1176.0,466.3 1179.4,466.0 1183.1,465.8 1186.7,465.7 1190.0,465.8 1192.8,466.2 1195.3,466.7 1197.7,467.4 1200.0,468.0 1202.2,468.6 1204.1,469.3 1206.3,469.9 1209.0,470.2 1212.7,470.2 1217.0,469.9 1221.3,469.4 1225.0,469.0 1227.8,468.5 1230.0,468.0 1232.0,467.5 1234.0,467.0 1236.1,466.5 1238.1,465.9 1240.0,465.4 1242.0,465.3 1244.1,465.6 1246.2,466.2 1248.2,466.9 1250.0,467.5 1251.6,467.9 1253.0,468.1 1254.2,468.3 1255.0,468.5" stroke="#ff0000" stroke-width="5.0"/>
</g>
<rect x="1056" y="290.5" width="170" height="90.5" fill="#fff"/>
<g clip-path="url(#clipB)" fill="none" stroke-linejoin="round">
<polyline points="800.0,467.8 809.0,467.7 821.9,467.5 836.3,467.4 850.0,467.3 862.7,467.4 875.6,467.5 888.2,467.7 900.0,467.8 911.3,467.8 922.2,467.9 932.0,467.9 940.0,467.8 945.7,467.7 949.6,467.7 952.5,467.5 955.0,467.2 957.1,466.7 958.4,466.1 959.4,465.4 960.6,464.5 961.9,463.5 963.2,462.3 964.5,461.1 966.0,460.0 967.7,459.0 969.4,457.9 971.4,457.0 973.6,456.3 975.9,455.8 978.2,455.5 981.1,455.4 985.0,455.3 990.4,455.3 997.0,455.5 1003.8,455.7 1010.0,455.8 1015.4,455.7 1020.4,455.5 1025.3,455.3 1030.0,455.2 1034.7,455.1 1039.4,455.0 1043.8,455.0 1048.0,455.0 1051.7,455.1 1055.0,455.3 1058.3,455.5 1062.0,455.6 1066.3,455.6 1070.9,455.7 1075.6,455.6 1080.0,455.6 1084.2,455.5 1088.3,455.4 1091.9,455.3 1094.9,455.3 1096.8,455.4 1098.0,455.6 1098.9,455.9 1100.0,456.5 1101.4,457.4 1102.9,458.5 1104.4,459.8 1106.0,461.0 1107.7,462.3 1109.4,463.7 1111.2,465.0 1113.0,466.0 1114.0,466.7 1114.4,467.1 1115.9,467.4 1120.0,467.6 1127.7,467.7 1137.9,467.7 1149.2,467.7 1160.0,467.6 1170.2,467.5 1180.6,467.4 1190.7,467.3 1200.0,467.2 1208.3,467.2 1216.0,467.2 1223.1,467.3 1230.0,467.4 1237.1,467.5 1244.2,467.6 1250.4,467.7 1254.7,467.8" stroke="#0000ff" stroke-width="4.8"/>
</g>
<rect x="807.8" y="85.9" width="461.7" height="393.7" fill="none" stroke="#000" stroke-width="2.6"/>
<text x="1040.2" y="563.6" font-size="40" text-anchor="middle" fill="#000" >Time (ms)</text>
<text transform="translate(724.5,283.4) rotate(-90) scale(1,0.957)" font-size="40.4" fill="#000" text-anchor="middle" xml:space="preserve">Rate  <tspan font-size="38.6" dx="1.5">MSN</tspan><tspan font-size="26.5" dy="10.5">D</tspan><tspan font-size="26.5" font-family='"Liberation Serif", "DejaVu Serif", serif'>1</tspan><tspan dy="-10.5" dx="1.5"> (spikes/s)</tspan></text>
<text transform="translate(827,138) scale(1,0.957)" font-size="40" fill="#ff0000" text-anchor="start" >Bursting</text>
<text transform="translate(827,184) scale(1,0.957)" font-size="40" fill="#ff0000" text-anchor="start" ><tspan font-size="38.3" dx="0">MSN</tspan><tspan font-size="26.5" dy="10.5">D</tspan><tspan font-size="26.5" font-family='"Liberation Serif", "DejaVu Serif", serif'>1</tspan></text>
<text x="1057" y="327" font-size="40" fill="#0000ff">Average</text>
<text x="1058" y="372.3" font-size="40" fill="#0000ff">over all</text>
<line x1="1081.1" y1="404.7" x2="1070" y2="427.5" stroke="#000" stroke-width="4.1"/>
<polygon points="1061.3,447 1063.5,420.4 1080.7,428.5" fill="#000"/>
</g>
<text transform="translate(705,33.1) scale(1,1.03)" font-size="41.5" font-weight="bold" font-family='"Liberation Sans", sans-serif'>B</text>
<g id="panelC">
<g fill="none" stroke-linejoin="round">
<polygon points="1439.0,237.6 1444.0,237.5 1447.5,236.5 1451.0,235.7 1453.9,235.8 1456.9,235.1 1460.3,235.9 1462.6,237.4 1465.9,238.7 1468.7,238.2 1471.5,237.8 1474.8,238.4 1478.1,237.5 1481.0,237.1 1483.9,237.3 1488.2,235.4 1491.8,234.5 1495.1,231.7 1498.0,233.5 1500.7,233.9 1504.1,232.7 1508.9,235.4 1511.7,234.5 1514.5,234.9 1517.1,235.0 1519.8,234.7 1524.5,233.7 1528.9,232.1 1533.3,229.7 1537.9,229.2 1542.4,229.2 1546.7,228.5 1550.7,226.8 1554.3,228.0 1558.0,225.9 1561.7,229.0 1565.5,227.5 1569.2,228.1 1573.0,228.5 1576.7,229.0 1580.0,229.2 1582.6,229.0 1584.7,230.4 1586.9,231.8 1589.1,232.0 1591.2,232.6 1593.8,234.2 1597.2,235.1 1601.1,236.0 1604.9,237.4 1608.1,239.1 1611.2,237.0 1614.5,235.6 1618.7,234.7 1623.2,234.0 1627.0,235.0 1629.2,235.1 1630.6,236.6 1632.5,237.7 1635.4,235.4 1638.8,234.0 1642.2,234.1 1645.4,232.2 1648.6,234.4 1651.8,235.0 1655.2,234.6 1658.6,235.8 1661.5,235.0 1663.6,233.2 1665.3,231.0 1667.0,229.7 1668.7,231.0 1670.4,233.8 1672.5,235.7 1675.5,234.4 1678.9,233.2 1682.2,231.2 1685.0,230.7 1687.6,231.9 1690.5,231.5 1694.2,232.2 1698.2,229.7 1701.5,229.0 1703.7,231.8 1705.2,233.1 1707.1,233.8 1709.5,235.1 1712.3,237.2 1715.4,236.8 1719.0,235.0 1723.0,233.7 1726.4,233.9 1728.7,235.0 1730.3,236.1 1731.9,236.6 1733.8,236.5 1735.6,236.3 1737.5,236.1 1739.3,236.4 1741.2,237.1 1743.0,237.2 1744.6,236.4 1746.1,235.3 1747.8,235.4 1749.9,236.9 1752.2,237.8 1754.0,238.5 1754.9,238.9 1755.3,239.0 1756.1,240.1 1757.7,242.9 1759.7,244.9 1761.6,245.2 1763.6,246.1 1765.6,249.4 1767.2,252.6 1767.7,254.4 1767.7,256.0 1768.4,258.7 1770.3,262.5 1771.6,265.4 1772.9,268.8 1774.2,273.5 1775.6,277.4 1776.3,279.9 1777.0,282.1 1777.7,284.2 1778.5,286.3 1779.2,289.0 1779.9,291.9 1780.7,295.0 1781.4,298.2 1782.3,301.6 1783.2,304.8 1784.1,307.8 1785.1,310.0 1786.1,312.4 1787.7,315.8 1789.5,320.3 1791.7,325.6 1794.0,328.5 1796.3,330.4 1798.5,332.6 1800.8,334.5 1803.1,336.0 1805.8,337.1 1808.7,337.0 1811.3,337.3 1813.2,336.8 1814.8,335.0 1816.7,332.7 1819.2,332.5 1822.0,334.4 1824.9,334.0 1828.1,334.3 1831.4,333.9 1834.4,334.0 1837.0,335.9 1839.2,336.5 1841.2,336.4 1842.5,335.9 1843.5,335.3 1845.3,335.3 1848.4,334.8 1852.2,334.7 1856.2,336.1 1860.2,335.4 1864.5,334.2 1868.4,333.4 1871.9,332.8 1875.0,332.7 1877.9,331.8 1880.3,329.1 1882.5,327.2 1884.7,326.4 1887.3,326.6 1890.0,328.9 1892.9,330.5 1895.9,328.3 1899.1,328.3 1902.4,327.9 1905.9,326.9 1909.6,327.8 1913.3,325.7 1917.1,326.2 1920.8,326.5 1924.2,328.5 1926.7,328.8 1928.8,328.7 1931.0,330.2 1933.1,332.5 1935.3,334.5 1937.8,335.9 1940.8,336.7 1944.1,336.3 1947.3,334.7 1950.1,332.4 1952.9,332.3 1955.4,333.5 1957.8,332.8 1960.0,332.1 1962.2,332.5 1964.5,331.7 1966.8,329.3 1969.0,328.1 1971.3,329.3 1973.5,329.5 1975.8,329.2 1978.4,330.8 1981.1,331.6 1984.0,331.6 1987.1,335.4 1990.3,337.1 1993.5,337.2 1996.7,338.5 2000.0,338.2 2003.0,338.9 2006.0,340.1 2008.8,341.0 2011.2,340.8 2012.8,339.5 2014.0,338.2 2015.3,337.6 2016.8,338.6 2018.6,340.1 2020.7,340.7 2023.5,340.2 2026.8,339.9 2030.2,337.1 2033.8,337.2 2037.4,336.0 2041.1,338.1 2045.0,336.9 2048.9,335.0 2052.0,336.8 2053.7,336.2 2054.6,335.7 2056.1,336.0 2058.8,338.3 2062.2,338.7 2065.6,339.3 2068.8,340.3 2072.0,342.3 2075.1,344.0 2078.0,343.9 2080.8,343.7 2083.3,343.4 2085.2,342.7 2086.9,341.8 2088.7,340.0 2090.9,336.3 2093.3,331.3 2095.5,327.2 2097.4,323.3 2099.2,318.8 2101.0,314.1 2102.8,310.1 2104.6,306.1 2105.5,303.7 2106.4,301.0 2107.2,296.8 2108.1,292.7 2108.6,289.9 2109.2,287.1 2109.7,284.2 2110.3,281.6 2110.9,278.9 2111.5,276.3 2112.5,273.0 2113.5,269.7 2114.6,266.3 2115.7,262.7 2116.7,259.4 2117.7,256.3 2118.6,253.9 2119.5,251.8 2121.1,248.4 2122.9,244.8 2125.1,240.7 2127.5,237.8 2129.7,235.7 2131.6,233.2 2133.3,230.7 2134.9,229.4 2136.6,229.6 2138.4,230.3 2140.1,230.5 2141.9,230.2 2143.6,230.1 2145.3,230.3 2146.7,230.8 2147.9,231.6 2149.4,233.4 2151.3,236.4 2153.4,239.2 2155.6,241.3 2157.9,244.6 2160.2,247.7 2162.9,248.2 2166.2,246.3 2169.8,244.0 2173.3,241.3 2176.2,240.5 2178.9,237.3 2181.6,234.7 2184.4,234.4 2187.2,231.1 2189.8,229.1 2192.0,230.5 2193.9,231.4 2196.1,230.3 2198.7,229.7 2201.7,231.5 2204.4,232.2 2206.6,232.5 2208.6,232.1 2210.6,230.9 2212.6,229.7 2214.6,229.3 2216.8,229.2 2219.6,229.6 2222.5,232.0 2225.1,233.7 2226.6,234.2 2227.7,234.7 2229.2,235.4 2231.8,235.5 2234.7,234.5 2237.5,236.1 2239.7,236.6 2241.7,234.5 2243.7,233.5 2245.8,236.5 2247.9,240.2 2249.9,241.2 2252.0,240.6 2254.1,240.1 2256.2,240.1 2258.2,238.7 2260.2,236.9 2262.4,236.4 2264.8,236.6 2267.4,236.8 2270.0,237.5 2272.8,237.1 2275.7,234.9 2278.3,233.2 2280.5,231.3 2282.5,228.9 2284.5,227.1 2286.5,226.4 2288.5,226.2 2290.7,226.9 2293.2,228.4 2295.9,228.3 2299.0,228.0 2303.0,230.6 2307.5,229.5 2311.5,231.7 2314.4,231.0 2317.0,232.5 2319.7,233.8 2323.0,233.9 2326.6,236.4 2330.1,235.4 2333.5,235.8 2336.9,235.6 2340.5,234.5 2344.5,236.0 2348.7,237.1 2352.9,238.1 2357.3,239.6 2361.7,238.7 2365.3,239.6 2367.9,238.5 2369.7,237.0 2371.6,236.8 2373.6,237.3 2375.5,237.0 2377.8,236.6 2380.3,237.4 2383.1,235.8 2386.1,233.7 2389.4,235.7 2392.9,233.2 2396.4,233.2 2400.0,234.7 2403.5,235.3 2406.8,237.1 2409.7,237.7 2412.4,239.2 2415.1,239.8 2417.8,240.0 2420.6,241.0 2423.4,240.6 2426.2,239.4 2429.0,238.4 2431.7,237.6 2434.2,237.9 2436.6,237.2 2438.3,235.2 2438.3,253.9 2436.1,254.1 2432.9,254.6 2429.6,254.3 2426.2,251.9 2422.6,251.0 2419.2,251.7 2416.3,251.3 2413.6,251.1 2410.9,251.3 2408.2,250.0 2405.4,247.0 2402.6,244.7 2399.9,245.6 2397.1,248.4 2394.4,250.4 2391.6,251.2 2388.8,252.0 2386.1,252.5 2383.3,253.0 2380.5,253.8 2377.8,254.4 2375.0,254.2 2372.2,253.7 2369.5,253.7 2366.7,253.5 2364.0,252.5 2361.2,250.8 2358.5,248.9 2355.8,246.8 2352.9,245.4 2349.4,245.9 2345.8,247.7 2342.5,247.5 2340.4,246.3 2338.7,245.1 2336.3,244.4 2332.6,243.9 2328.3,244.4 2323.9,246.6 2319.7,246.1 2315.6,246.1 2311.5,244.9 2307.2,242.6 2302.9,242.4 2299.0,240.9 2296.0,239.9 2293.5,239.7 2290.7,239.9 2287.4,239.7 2283.9,240.0 2280.4,241.4 2276.7,243.1 2272.9,244.5 2270.0,244.9 2268.6,245.3 2267.9,245.8 2266.5,246.3 2263.6,247.3 2259.9,248.5 2256.2,249.1 2252.6,249.1 2249.1,248.3 2245.8,248.0 2242.8,250.0 2240.0,251.2 2237.5,250.7 2235.3,250.4 2233.3,251.3 2231.3,252.8 2229.5,254.3 2227.6,255.2 2225.1,255.0 2221.2,255.0 2216.7,253.4 2212.6,249.8 2209.7,249.0 2207.3,248.6 2204.4,247.6 2200.6,247.1 2196.4,247.6 2191.9,246.6 2186.9,247.4 2184.3,247.9 2181.7,248.0 2177.4,249.4 2174.8,251.2 2173.1,252.4 2171.2,253.5 2168.7,254.5 2165.9,254.6 2162.9,254.2 2159.4,253.2 2155.8,252.9 2152.5,252.7 2150.2,252.4 2148.2,251.8 2146.3,250.8 2144.2,249.0 2142.0,246.9 2140.1,245.4 2138.6,244.7 2137.3,244.3 2136.0,244.1 2134.6,243.6 2133.3,243.0 2131.8,242.8 2130.0,243.6 2128.1,245.6 2126.2,248.6 2124.5,252.2 2122.8,256.0 2121.0,259.9 2120.0,262.2 2119.0,264.4 2118.0,267.1 2116.9,270.0 2115.9,272.9 2114.8,275.9 2113.7,278.7 2112.6,281.6 2111.5,284.3 2110.4,287.2 2109.5,290.0 2108.6,292.8 2107.6,297.7 2107.1,302.1 2106.4,306.4 2105.2,310.4 2103.8,314.0 2102.3,318.1 2100.6,323.2 2099.7,325.9 2098.7,328.5 2096.9,333.0 2095.1,336.9 2093.3,340.3 2091.4,343.2 2089.8,345.4 2088.1,347.0 2086.0,348.4 2083.2,349.9 2079.9,351.3 2076.5,351.9 2073.0,351.8 2069.3,351.2 2065.6,351.0 2061.9,351.1 2058.1,349.9 2054.7,350.0 2052.0,351.7 2049.6,352.9 2046.6,352.3 2042.4,351.4 2037.7,350.9 2033.0,351.4 2028.3,352.4 2023.7,349.4 2019.4,349.6 2015.5,349.8 2012.0,349.2 2008.5,349.6 2004.9,349.4 2001.2,348.4 1997.6,348.0 1994.0,347.1 1990.3,345.7 1986.7,345.1 1983.0,344.7 1979.4,344.4 1975.8,344.0 1972.4,342.6 1969.1,341.0 1966.3,340.3 1964.4,340.3 1962.9,340.9 1960.9,341.9 1957.7,343.5 1953.9,344.1 1950.0,343.8 1945.9,344.7 1941.6,343.8 1937.8,342.9 1934.8,343.0 1932.3,342.9 1929.6,342.5 1926.4,342.6 1923.1,342.0 1920.1,339.3 1917.7,337.3 1915.5,336.8 1913.3,337.3 1910.6,336.8 1907.8,335.0 1905.1,334.1 1902.8,334.5 1900.5,335.6 1898.3,336.7 1896.2,337.8 1894.1,339.2 1891.5,341.0 1888.1,342.7 1884.2,344.3 1880.6,345.6 1877.8,345.6 1875.3,344.8 1872.5,343.9 1869.1,342.7 1865.3,341.8 1861.6,341.7 1857.9,342.1 1854.1,343.0 1850.7,343.4 1847.8,342.3 1845.2,341.1 1842.6,341.3 1839.9,342.3 1837.3,343.7 1834.4,344.3 1830.9,345.1 1827.0,346.9 1823.5,347.7 1820.5,349.4 1817.8,351.2 1815.4,351.6 1813.5,351.5 1811.9,351.5 1809.9,351.4 1807.0,350.9 1803.6,348.0 1800.4,344.2 1797.5,341.7 1794.8,339.8 1792.2,337.1 1789.8,333.1 1787.6,328.4 1785.4,323.4 1783.6,318.6 1781.8,313.7 1780.9,310.6 1780.0,307.7 1779.3,304.9 1778.6,302.2 1778.0,299.5 1777.2,296.4 1776.5,293.3 1775.8,290.2 1775.0,287.5 1774.3,284.7 1773.5,281.9 1772.3,278.8 1771.1,275.6 1769.9,273.1 1768.6,270.6 1766.3,266.1 1764.3,261.5 1762.4,257.4 1760.6,254.4 1758.8,252.7 1757.0,252.0 1755.4,251.3 1754.0,250.0 1752.7,248.6 1751.3,247.5 1749.6,247.0 1747.7,247.2 1745.7,247.8 1743.5,248.4 1741.2,248.4 1738.8,248.4 1736.6,249.0 1734.3,249.5 1731.9,249.2 1729.3,248.1 1726.5,247.4 1723.6,248.0 1720.9,248.4 1718.1,247.6 1715.4,246.6 1712.5,244.9 1709.6,242.2 1707.1,240.3 1705.0,240.3 1703.3,241.4 1701.5,242.8 1699.7,243.7 1697.9,243.9 1696.0,243.5 1694.3,242.7 1692.5,242.2 1690.5,242.7 1687.9,244.2 1685.1,245.7 1682.2,246.9 1679.4,247.5 1676.7,248.3 1673.9,249.6 1671.3,251.4 1668.6,252.9 1665.6,253.6 1662.1,254.2 1658.3,253.7 1654.6,252.4 1651.3,252.7 1648.1,252.5 1644.9,251.1 1641.7,250.5 1638.5,250.4 1635.2,248.8 1632.1,247.8 1628.9,248.6 1625.6,248.6 1621.9,247.9 1618.1,250.2 1614.5,251.8 1611.6,250.9 1609.0,249.7 1606.2,248.7 1603.1,246.9 1599.7,245.2 1596.6,244.5 1593.7,244.0 1591.0,243.1 1588.3,242.4 1585.3,242.9 1582.3,244.3 1580.0,245.4 1579.3,246.1 1579.4,246.9 1578.2,248.0 1574.6,248.7 1569.6,249.3 1564.7,251.5 1560.3,251.6 1555.9,252.7 1551.2,252.2 1548.6,251.1 1546.0,250.9 1543.3,250.2 1540.5,248.4 1535.5,246.9 1531.5,246.7 1528.0,244.2 1524.3,243.1 1520.0,242.8 1515.4,242.4 1510.8,244.4 1506.7,245.8 1502.5,246.0 1499.9,246.1 1497.4,246.2 1493.9,246.6 1490.4,247.9 1487.7,248.0 1485.0,247.5 1482.4,247.2 1478.6,246.9 1474.9,246.6 1471.7,246.2 1468.6,245.7 1465.7,245.3 1462.8,245.5 1459.9,245.9 1456.9,245.1 1453.6,243.6 1450.3,243.3 1447.0,243.2 1443.6,243.0 1439.0,242.9" fill="#0000ff" fill-opacity="0.5" stroke="none"/><polygon points="1439.0,237.6 1444.0,237.5 1447.5,236.5 1451.0,235.7 1453.9,235.8 1456.9,235.1 1460.3,235.9 1462.6,237.4 1465.9,238.7 1468.7,238.2 1471.5,237.8 1474.8,238.4 1478.1,237.5 1481.0,237.1 1483.9,237.3 1488.2,235.4 1491.8,234.5 1495.1,231.7 1498.0,233.5 1500.7,233.9 1504.1,232.7 1508.9,235.4 1511.7,234.5 1514.5,234.9 1517.1,235.0 1519.8,234.7 1524.5,233.7 1528.9,232.1 1533.3,229.7 1537.9,229.2 1542.4,229.2 1546.7,228.5 1550.7,226.8 1554.3,228.0 1558.0,225.9 1561.7,229.0 1565.5,227.5 1569.2,228.1 1573.0,228.5 1576.7,229.0 1580.0,229.2 1582.6,229.0 1584.7,230.4 1586.9,231.8 1589.1,232.0 1591.2,232.6 1593.8,234.2 1597.2,235.1 1601.1,236.0 1604.9,237.4 1608.1,239.1 1611.2,237.0 1614.5,235.6 1618.7,234.7 1623.2,234.0 1627.0,235.0 1629.2,235.1 1630.6,236.6 1632.5,237.7 1635.4,235.4 1638.8,234.0 1642.2,234.1 1645.4,232.2 1648.6,234.4 1651.8,235.0 1655.2,234.6 1658.6,235.8 1661.5,235.0 1663.6,233.2 1665.3,231.0 1667.0,229.7 1668.7,231.0 1670.4,233.8 1672.5,235.7 1675.5,234.4 1678.9,233.2 1682.2,231.2 1685.0,230.7 1687.6,231.9 1690.5,231.5 1694.2,232.2 1698.2,229.7 1701.5,229.0 1703.7,231.8 1705.2,233.1 1707.1,233.8 1709.5,235.1 1712.3,237.2 1715.4,236.8 1719.0,235.0 1723.0,233.7 1726.4,233.9 1728.7,235.0 1730.3,236.1 1731.9,236.6 1733.8,236.5 1735.6,236.3 1737.5,236.1 1739.3,236.4 1741.2,237.1 1743.0,237.2 1744.6,236.4 1746.1,235.3 1747.8,235.4 1749.9,236.9 1752.2,237.8 1754.0,238.5 1754.9,238.9 1755.3,239.0 1756.1,240.1 1757.7,242.9 1759.7,244.9 1761.6,245.2 1763.6,246.1 1765.6,249.4 1767.2,252.6 1767.7,254.4 1767.7,256.0 1768.4,258.7 1770.3,262.5 1771.6,265.4 1772.9,268.8 1774.2,273.5 1775.6,277.4 1776.3,279.9 1777.0,282.1 1777.7,284.2 1778.5,286.3 1779.2,289.0 1779.9,291.9 1780.7,295.0 1781.4,298.2 1782.3,301.6 1783.2,304.8 1784.1,307.8 1785.1,310.0 1786.1,312.4 1787.7,315.8 1789.5,320.3 1791.7,325.6 1794.0,328.5 1796.3,330.4 1798.5,332.6 1800.8,334.5 1803.1,336.0 1805.8,337.1 1808.7,337.0 1811.3,337.3 1813.2,336.8 1814.8,335.0 1816.7,332.7 1819.2,332.5 1822.0,334.4 1824.9,334.0 1828.1,334.3 1831.4,333.9 1834.4,334.0 1837.0,335.9 1839.2,336.5 1841.2,336.4 1842.5,335.9 1843.5,335.3 1845.3,335.3 1848.4,334.8 1852.2,334.7 1856.2,336.1 1860.2,335.4 1864.5,334.2 1868.4,333.4 1871.9,332.8 1875.0,332.7 1877.9,331.8 1880.3,329.1 1882.5,327.2 1884.7,326.4 1887.3,326.6 1890.0,328.9 1892.9,330.5 1895.9,328.3 1899.1,328.3 1902.4,327.9 1905.9,326.9 1909.6,327.8 1913.3,325.7 1917.1,326.2 1920.8,326.5 1924.2,328.5 1926.7,328.8 1928.8,328.7 1931.0,330.2 1933.1,332.5 1935.3,334.5 1937.8,335.9 1940.8,336.7 1944.1,336.3 1947.3,334.7 1950.1,332.4 1952.9,332.3 1955.4,333.5 1957.8,332.8 1960.0,332.1 1962.2,332.5 1964.5,331.7 1966.8,329.3 1969.0,328.1 1971.3,329.3 1973.5,329.5 1975.8,329.2 1978.4,330.8 1981.1,331.6 1984.0,331.6 1987.1,335.4 1990.3,337.1 1993.5,337.2 1996.7,338.5 2000.0,338.2 2003.0,338.9 2006.0,340.1 2008.8,341.0 2011.2,340.8 2012.8,339.5 2014.0,338.2 2015.3,337.6 2016.8,338.6 2018.6,340.1 2020.7,340.7 2023.5,340.2 2026.8,339.9 2030.2,337.1 2033.8,337.2 2037.4,336.0 2041.1,338.1 2045.0,336.9 2048.9,335.0 2052.0,336.8 2053.7,336.2 2054.6,335.7 2056.1,336.0 2058.8,338.3 2062.2,338.7 2065.6,339.3 2068.8,340.3 2072.0,342.3 2075.1,344.0 2078.0,343.9 2080.8,343.7 2083.3,343.4 2085.2,342.7 2086.9,341.8 2088.7,340.0 2090.9,336.3 2093.3,331.3 2095.5,327.2 2097.4,323.3 2099.2,318.8 2101.0,314.1 2102.8,310.1 2104.6,306.1 2105.5,303.7 2106.4,301.0 2107.2,296.8 2108.1,292.7 2108.6,289.9 2109.2,287.1 2109.7,284.2 2110.3,281.6 2110.9,278.9 2111.5,276.3 2112.5,273.0 2113.5,269.7 2114.6,266.3 2115.7,262.7 2116.7,259.4 2117.7,256.3 2118.6,253.9 2119.5,251.8 2121.1,248.4 2122.9,244.8 2125.1,240.7 2127.5,237.8 2129.7,235.7 2131.6,233.2 2133.3,230.7 2134.9,229.4 2136.6,229.6 2138.4,230.3 2140.1,230.5 2141.9,230.2 2143.6,230.1 2145.3,230.3 2146.7,230.8 2147.9,231.6 2149.4,233.4 2151.3,236.4 2153.4,239.2 2155.6,241.3 2157.9,244.6 2160.2,247.7 2162.9,248.2 2166.2,246.3 2169.8,244.0 2173.3,241.3 2176.2,240.5 2178.9,237.3 2181.6,234.7 2184.4,234.4 2187.2,231.1 2189.8,229.1 2192.0,230.5 2193.9,231.4 2196.1,230.3 2198.7,229.7 2201.7,231.5 2204.4,232.2 2206.6,232.5 2208.6,232.1 2210.6,230.9 2212.6,229.7 2214.6,229.3 2216.8,229.2 2219.6,229.6 2222.5,232.0 2225.1,233.7 2226.6,234.2 2227.7,234.7 2229.2,235.4 2231.8,235.5 2234.7,234.5 2237.5,236.1 2239.7,236.6 2241.7,234.5 2243.7,233.5 2245.8,236.5 2247.9,240.2 2249.9,241.2 2252.0,240.6 2254.1,240.1 2256.2,240.1 2258.2,238.7 2260.2,236.9 2262.4,236.4 2264.8,236.6 2267.4,236.8 2270.0,237.5 2272.8,237.1 2275.7,234.9 2278.3,233.2 2280.5,231.3 2282.5,228.9 2284.5,227.1 2286.5,226.4 2288.5,226.2 2290.7,226.9 2293.2,228.4 2295.9,228.3 2299.0,228.0 2303.0,230.6 2307.5,229.5 2311.5,231.7 2314.4,231.0 2317.0,232.5 2319.7,233.8 2323.0,233.9 2326.6,236.4 2330.1,235.4 2333.5,235.8 2336.9,235.6 2340.5,234.5 2344.5,236.0 2348.7,237.1 2352.9,238.1 2357.3,239.6 2361.7,238.7 2365.3,239.6 2367.9,238.5 2369.7,237.0 2371.6,236.8 2373.6,237.3 2375.5,237.0 2377.8,236.6 2380.3,237.4 2383.1,235.8 2386.1,233.7 2389.4,235.7 2392.9,233.2 2396.4,233.2 2400.0,234.7 2403.5,235.3 2406.8,237.1 2409.7,237.7 2412.4,239.2 2415.1,239.8 2417.8,240.0 2420.6,241.0 2423.4,240.6 2426.2,239.4 2429.0,238.4 2431.7,237.6 2434.2,237.9 2436.6,237.2 2438.3,235.2 2438.3,253.9 2436.1,254.1 2432.9,254.6 2429.6,254.3 2426.2,251.9 2422.6,251.0 2419.2,251.7 2416.3,251.3 2413.6,251.1 2410.9,251.3 2408.2,250.0 2405.4,247.0 2402.6,244.7 2399.9,245.6 2397.1,248.4 2394.4,250.4 2391.6,251.2 2388.8,252.0 2386.1,252.5 2383.3,253.0 2380.5,253.8 2377.8,254.4 2375.0,254.2 2372.2,253.7 2369.5,253.7 2366.7,253.5 2364.0,252.5 2361.2,250.8 2358.5,248.9 2355.8,246.8 2352.9,245.4 2349.4,245.9 2345.8,247.7 2342.5,247.5 2340.4,246.3 2338.7,245.1 2336.3,244.4 2332.6,243.9 2328.3,244.4 2323.9,246.6 2319.7,246.1 2315.6,246.1 2311.5,244.9 2307.2,242.6 2302.9,242.4 2299.0,240.9 2296.0,239.9 2293.5,239.7 2290.7,239.9 2287.4,239.7 2283.9,240.0 2280.4,241.4 2276.7,243.1 2272.9,244.5 2270.0,244.9 2268.6,245.3 2267.9,245.8 2266.5,246.3 2263.6,247.3 2259.9,248.5 2256.2,249.1 2252.6,249.1 2249.1,248.3 2245.8,248.0 2242.8,250.0 2240.0,251.2 2237.5,250.7 2235.3,250.4 2233.3,251.3 2231.3,252.8 2229.5,254.3 2227.6,255.2 2225.1,255.0 2221.2,255.0 2216.7,253.4 2212.6,249.8 2209.7,249.0 2207.3,248.6 2204.4,247.6 2200.6,247.1 2196.4,247.6 2191.9,246.6 2186.9,247.4 2184.3,247.9 2181.7,248.0 2177.4,249.4 2174.8,251.2 2173.1,252.4 2171.2,253.5 2168.7,254.5 2165.9,254.6 2162.9,254.2 2159.4,253.2 2155.8,252.9 2152.5,252.7 2150.2,252.4 2148.2,251.8 2146.3,250.8 2144.2,249.0 2142.0,246.9 2140.1,245.4 2138.6,244.7 2137.3,244.3 2136.0,244.1 2134.6,243.6 2133.3,243.0 2131.8,242.8 2130.0,243.6 2128.1,245.6 2126.2,248.6 2124.5,252.2 2122.8,256.0 2121.0,259.9 2120.0,262.2 2119.0,264.4 2118.0,267.1 2116.9,270.0 2115.9,272.9 2114.8,275.9 2113.7,278.7 2112.6,281.6 2111.5,284.3 2110.4,287.2 2109.5,290.0 2108.6,292.8 2107.6,297.7 2107.1,302.1 2106.4,306.4 2105.2,310.4 2103.8,314.0 2102.3,318.1 2100.6,323.2 2099.7,325.9 2098.7,328.5 2096.9,333.0 2095.1,336.9 2093.3,340.3 2091.4,343.2 2089.8,345.4 2088.1,347.0 2086.0,348.4 2083.2,349.9 2079.9,351.3 2076.5,351.9 2073.0,351.8 2069.3,351.2 2065.6,351.0 2061.9,351.1 2058.1,349.9 2054.7,350.0 2052.0,351.7 2049.6,352.9 2046.6,352.3 2042.4,351.4 2037.7,350.9 2033.0,351.4 2028.3,352.4 2023.7,349.4 2019.4,349.6 2015.5,349.8 2012.0,349.2 2008.5,349.6 2004.9,349.4 2001.2,348.4 1997.6,348.0 1994.0,347.1 1990.3,345.7 1986.7,345.1 1983.0,344.7 1979.4,344.4 1975.8,344.0 1972.4,342.6 1969.1,341.0 1966.3,340.3 1964.4,340.3 1962.9,340.9 1960.9,341.9 1957.7,343.5 1953.9,344.1 1950.0,343.8 1945.9,344.7 1941.6,343.8 1937.8,342.9 1934.8,343.0 1932.3,342.9 1929.6,342.5 1926.4,342.6 1923.1,342.0 1920.1,339.3 1917.7,337.3 1915.5,336.8 1913.3,337.3 1910.6,336.8 1907.8,335.0 1905.1,334.1 1902.8,334.5 1900.5,335.6 1898.3,336.7 1896.2,337.8 1894.1,339.2 1891.5,341.0 1888.1,342.7 1884.2,344.3 1880.6,345.6 1877.8,345.6 1875.3,344.8 1872.5,343.9 1869.1,342.7 1865.3,341.8 1861.6,341.7 1857.9,342.1 1854.1,343.0 1850.7,343.4 1847.8,342.3 1845.2,341.1 1842.6,341.3 1839.9,342.3 1837.3,343.7 1834.4,344.3 1830.9,345.1 1827.0,346.9 1823.5,347.7 1820.5,349.4 1817.8,351.2 1815.4,351.6 1813.5,351.5 1811.9,351.5 1809.9,351.4 1807.0,350.9 1803.6,348.0 1800.4,344.2 1797.5,341.7 1794.8,339.8 1792.2,337.1 1789.8,333.1 1787.6,328.4 1785.4,323.4 1783.6,318.6 1781.8,313.7 1780.9,310.6 1780.0,307.7 1779.3,304.9 1778.6,302.2 1778.0,299.5 1777.2,296.4 1776.5,293.3 1775.8,290.2 1775.0,287.5 1774.3,284.7 1773.5,281.9 1772.3,278.8 1771.1,275.6 1769.9,273.1 1768.6,270.6 1766.3,266.1 1764.3,261.5 1762.4,257.4 1760.6,254.4 1758.8,252.7 1757.0,252.0 1755.4,251.3 1754.0,250.0 1752.7,248.6 1751.3,247.5 1749.6,247.0 1747.7,247.2 1745.7,247.8 1743.5,248.4 1741.2,248.4 1738.8,248.4 1736.6,249.0 1734.3,249.5 1731.9,249.2 1729.3,248.1 1726.5,247.4 1723.6,248.0 1720.9,248.4 1718.1,247.6 1715.4,246.6 1712.5,244.9 1709.6,242.2 1707.1,240.3 1705.0,240.3 1703.3,241.4 1701.5,242.8 1699.7,243.7 1697.9,243.9 1696.0,243.5 1694.3,242.7 1692.5,242.2 1690.5,242.7 1687.9,244.2 1685.1,245.7 1682.2,246.9 1679.4,247.5 1676.7,248.3 1673.9,249.6 1671.3,251.4 1668.6,252.9 1665.6,253.6 1662.1,254.2 1658.3,253.7 1654.6,252.4 1651.3,252.7 1648.1,252.5 1644.9,251.1 1641.7,250.5 1638.5,250.4 1635.2,248.8 1632.1,247.8 1628.9,248.6 1625.6,248.6 1621.9,247.9 1618.1,250.2 1614.5,251.8 1611.6,250.9 1609.0,249.7 1606.2,248.7 1603.1,246.9 1599.7,245.2 1596.6,244.5 1593.7,244.0 1591.0,243.1 1588.3,242.4 1585.3,242.9 1582.3,244.3 1580.0,245.4 1579.3,246.1 1579.4,246.9 1578.2,248.0 1574.6,248.7 1569.6,249.3 1564.7,251.5 1560.3,251.6 1555.9,252.7 1551.2,252.2 1548.6,251.1 1546.0,250.9 1543.3,250.2 1540.5,248.4 1535.5,246.9 1531.5,246.7 1528.0,244.2 1524.3,243.1 1520.0,242.8 1515.4,242.4 1510.8,244.4 1506.7,245.8 1502.5,246.0 1499.9,246.1 1497.4,246.2 1493.9,246.6 1490.4,247.9 1487.7,248.0 1485.0,247.5 1482.4,247.2 1478.6,246.9 1474.9,246.6 1471.7,246.2 1468.6,245.7 1465.7,245.3 1462.8,245.5 1459.9,245.9 1456.9,245.1 1453.6,243.6 1450.3,243.3 1447.0,243.2 1443.6,243.0 1439.0,242.9" fill="none" stroke="#808080" stroke-opacity="1.0" stroke-width="2.8" stroke-linejoin="round"/>
<polygon points="1440.1,266.9 1444.8,266.1 1448.0,266.3 1451.3,266.2 1454.1,265.5 1456.9,265.2 1460.3,265.9 1462.7,266.7 1465.9,267.3 1470.7,268.7 1473.5,268.6 1476.3,267.7 1479.0,267.6 1481.6,268.4 1486.2,268.1 1490.5,266.3 1495.1,264.8 1500.1,264.2 1502.7,263.5 1505.3,262.2 1508.1,261.5 1510.8,260.8 1513.8,260.1 1516.8,259.9 1519.9,261.8 1523.0,263.0 1525.9,262.0 1528.8,261.6 1533.6,262.1 1537.9,259.0 1542.3,259.6 1546.7,260.7 1551.1,260.3 1555.7,260.5 1558.4,258.7 1561.1,257.4 1563.9,257.8 1566.7,258.9 1571.4,258.6 1574.8,258.6 1577.4,259.2 1580.0,260.1 1582.7,261.2 1585.4,262.1 1588.3,262.6 1591.4,263.8 1594.7,266.0 1598.0,267.9 1601.2,269.7 1604.4,271.5 1607.6,272.1 1610.8,271.0 1614.0,270.3 1617.3,270.4 1620.8,269.5 1624.4,268.7 1628.3,268.0 1632.7,264.8 1637.4,265.3 1642.2,264.0 1646.8,262.3 1651.5,262.7 1656.0,262.3 1660.4,261.7 1664.6,260.1 1668.4,259.3 1671.5,259.9 1674.1,261.3 1676.7,262.4 1679.3,261.9 1682.0,260.3 1685.0,260.1 1688.5,262.1 1692.2,262.4 1696.0,262.4 1699.8,263.3 1703.6,263.0 1707.1,263.1 1709.9,264.2 1712.5,265.3 1715.4,265.3 1719.0,264.2 1723.0,263.1 1726.4,259.2 1728.6,258.5 1730.1,260.1 1731.9,261.8 1734.5,262.7 1737.4,263.0 1740.2,263.5 1742.9,263.9 1745.4,263.4 1747.8,263.2 1750.0,264.2 1752.1,266.1 1754.0,268.6 1756.1,271.5 1758.0,275.0 1759.6,278.8 1760.2,283.0 1760.4,287.7 1760.8,290.4 1761.1,293.0 1761.8,295.7 1762.5,298.3 1763.4,301.2 1764.3,304.1 1765.2,306.6 1766.0,309.3 1766.8,312.0 1767.7,315.0 1768.5,318.1 1769.4,321.4 1770.2,324.7 1771.0,328.0 1771.8,331.2 1772.6,334.4 1773.4,337.4 1774.2,340.3 1775.0,343.2 1775.8,345.9 1776.6,348.5 1777.4,351.2 1778.2,353.8 1778.9,356.4 1779.5,359.1 1780.2,361.9 1780.8,364.7 1781.5,367.6 1782.2,370.5 1782.7,373.0 1783.3,375.6 1783.9,378.1 1784.4,380.5 1785.0,382.9 1785.5,385.3 1786.1,387.7 1786.8,390.5 1787.6,393.5 1788.3,396.6 1789.1,400.1 1790.4,402.6 1790.9,399.3 1791.6,399.1 1792.3,402.5 1792.9,405.9 1793.5,409.1 1794.0,412.2 1794.6,415.2 1795.4,418.6 1796.2,421.9 1797.7,425.7 1799.2,428.2 1800.9,430.6 1802.8,434.1 1805.0,437.8 1807.1,440.4 1808.8,441.5 1810.5,441.8 1813.3,441.9 1817.8,441.8 1820.6,441.2 1823.3,440.7 1826.1,440.7 1828.9,440.6 1831.4,440.6 1834.0,440.8 1836.6,441.1 1839.2,441.2 1841.8,441.2 1844.4,441.2 1847.0,441.1 1849.6,441.0 1852.2,441.0 1854.8,441.3 1857.3,441.5 1859.9,441.3 1862.5,440.8 1865.1,440.6 1867.7,440.3 1870.3,439.9 1872.9,439.6 1875.5,439.6 1878.1,439.8 1880.8,439.6 1883.5,439.1 1886.2,439.1 1891.0,439.3 1895.2,438.7 1898.8,438.4 1901.9,437.8 1904.3,437.0 1906.2,436.4 1908.1,436.4 1909.8,436.8 1911.6,437.0 1914.3,436.8 1918.8,435.5 1921.6,435.2 1924.3,435.4 1927.1,436.6 1929.9,437.9 1932.5,438.2 1935.0,438.0 1937.6,438.4 1940.2,439.1 1942.8,439.3 1945.4,439.3 1948.0,439.6 1950.6,440.1 1953.2,440.1 1955.8,439.9 1958.4,440.1 1960.9,440.6 1963.6,440.8 1966.2,440.7 1968.8,440.7 1971.4,440.9 1974.0,441.1 1976.5,441.0 1980.5,441.0 1984.3,441.3 1987.1,441.2 1990.0,441.1 1993.0,441.3 1996.0,441.4 1999.0,441.2 2001.7,441.0 2004.5,441.1 2007.2,441.0 2010.0,441.0 2012.7,441.1 2015.5,440.8 2018.3,440.2 2021.1,440.2 2023.8,440.9 2026.5,441.4 2029.2,441.5 2032.0,441.4 2034.7,441.3 2037.5,440.6 2040.2,440.0 2043.0,440.5 2045.6,441.5 2048.3,441.8 2050.9,441.5 2053.6,441.4 2056.2,441.6 2058.9,441.4 2061.6,441.1 2064.2,441.3 2066.8,441.6 2069.3,441.5 2071.9,441.0 2074.4,441.0 2077.0,441.5 2079.5,441.8 2082.1,441.8 2085.7,441.3 2086.8,440.6 2087.7,439.5 2089.1,438.4 2090.3,436.9 2091.9,433.0 2093.0,429.7 2094.2,426.9 2095.1,424.4 2096.0,422.1 2096.9,419.8 2097.8,416.8 2098.7,413.7 2099.6,410.5 2100.3,407.4 2100.9,404.4 2101.6,401.3 2102.2,398.2 2102.7,395.3 2103.3,392.5 2103.8,389.6 2104.3,386.9 2104.8,384.1 2105.3,381.2 2105.8,378.3 2106.4,375.5 2106.9,372.6 2107.4,369.7 2107.9,366.9 2108.3,364.0 2108.8,361.2 2109.3,358.3 2109.7,355.3 2110.2,352.4 2110.6,349.7 2111.0,347.1 2111.4,344.4 2111.8,341.8 2112.2,339.1 2112.6,336.5 2113.0,333.9 2113.6,330.8 2114.1,327.7 2114.6,324.7 2115.2,321.7 2116.1,319.7 2116.4,323.0 2116.9,323.9 2117.4,321.3 2117.8,318.7 2118.2,316.1 2118.6,313.5 2118.9,310.9 2119.5,307.2 2120.0,303.4 2120.5,300.3 2121.0,297.2 2121.5,294.3 2122.0,291.3 2122.6,288.7 2123.1,286.0 2124.3,281.3 2125.5,277.3 2126.6,274.0 2127.6,271.4 2128.6,269.2 2129.7,266.9 2131.2,263.6 2133.0,259.6 2134.9,256.2 2137.2,254.0 2139.8,253.2 2142.2,252.8 2144.2,253.1 2146.2,254.5 2148.4,257.1 2151.0,260.4 2153.9,263.2 2156.7,265.6 2159.2,268.6 2161.6,271.5 2163.9,272.8 2166.3,272.5 2168.7,271.3 2171.2,269.6 2173.9,266.8 2176.7,263.9 2179.5,262.5 2182.2,261.1 2185.0,258.5 2187.8,256.2 2190.5,255.6 2193.3,255.8 2196.1,256.0 2198.7,257.5 2201.4,259.7 2204.4,259.5 2207.8,255.7 2211.5,253.5 2214.7,253.5 2217.0,253.7 2218.9,254.5 2220.9,255.8 2223.5,257.6 2226.4,258.3 2229.2,258.6 2232.0,260.1 2234.7,262.1 2237.5,263.7 2240.2,265.5 2242.9,267.9 2245.8,269.2 2249.1,269.1 2252.6,268.3 2256.2,267.2 2259.9,265.0 2263.6,263.7 2266.5,263.0 2267.9,262.6 2268.6,262.5 2270.0,262.0 2272.9,261.2 2276.7,260.2 2280.4,257.9 2283.8,256.8 2287.3,256.0 2290.7,254.1 2294.2,253.5 2297.6,254.7 2301.1,254.9 2304.5,255.7 2307.8,257.4 2311.5,258.3 2315.4,260.4 2319.7,263.0 2323.9,262.8 2328.2,263.6 2332.5,265.0 2336.3,266.5 2339.4,266.9 2342.0,266.6 2344.6,266.4 2347.3,266.7 2350.0,267.2 2352.9,267.2 2356.2,267.1 2359.7,267.0 2363.3,265.3 2366.7,263.5 2370.2,263.2 2373.6,261.3 2377.1,259.2 2380.5,258.9 2384.0,258.8 2387.4,259.2 2390.9,260.6 2394.4,260.6 2397.8,260.0 2401.3,261.1 2404.7,262.4 2408.2,264.2 2411.6,266.7 2415.1,268.0 2418.6,268.9 2422.1,269.8 2425.4,268.8 2428.5,267.6 2431.3,267.7 2433.7,267.6 2435.7,266.9 2437.2,266.0 2438.3,265.3 2438.3,277.7 2436.6,278.7 2434.2,280.6 2431.7,280.7 2429.1,280.6 2426.3,282.5 2423.4,282.2 2420.1,281.8 2416.5,281.6 2413.0,279.4 2409.5,280.2 2405.9,277.8 2402.6,276.8 2399.9,274.5 2397.3,272.9 2394.4,273.1 2390.4,274.3 2386.1,275.4 2381.9,276.6 2378.3,277.3 2374.9,279.2 2371.6,279.9 2368.2,277.3 2364.8,276.9 2361.2,274.7 2357.2,274.9 2353.0,273.2 2348.8,272.6 2344.6,272.5 2340.5,272.7 2336.3,272.7 2332.2,272.7 2328.0,275.7 2323.9,276.0 2319.7,276.8 2315.6,273.8 2311.5,274.0 2307.2,270.8 2302.9,269.4 2299.0,268.6 2296.0,268.8 2293.5,267.9 2290.7,267.2 2287.4,266.0 2283.9,267.3 2280.4,268.4 2276.7,271.4 2272.9,272.6 2270.0,273.7 2268.6,274.9 2267.9,275.1 2266.5,275.1 2263.6,274.2 2259.9,275.2 2256.2,274.2 2252.6,274.7 2249.0,274.7 2245.8,275.1 2243.5,275.8 2241.7,276.7 2239.6,277.8 2236.9,278.9 2234.0,280.1 2231.3,282.6 2229.2,283.2 2227.4,282.6 2225.1,282.6 2221.9,282.7 2218.3,280.3 2214.7,280.7 2211.2,277.1 2207.7,276.1 2204.4,274.3 2201.4,273.9 2198.7,274.2 2196.1,273.6 2193.3,274.3 2190.5,274.8 2187.8,275.9 2185.0,277.2 2182.2,276.9 2179.5,277.7 2176.7,278.1 2174.0,277.9 2171.2,280.9 2168.4,282.6 2165.5,282.9 2162.9,284.3 2160.8,283.8 2158.8,282.2 2156.7,281.3 2154.0,280.3 2151.1,277.0 2148.4,275.1 2146.2,273.8 2144.2,272.5 2142.2,272.3 2140.1,273.2 2138.0,274.0 2136.0,274.9 2133.8,276.2 2131.6,276.6 2129.7,277.0 2128.3,279.3 2127.1,282.9 2126.0,287.2 2124.9,292.1 2124.4,294.8 2123.9,297.3 2123.4,300.1 2122.9,302.9 2122.4,306.3 2121.8,309.9 2121.4,312.5 2121.1,315.2 2120.7,317.9 2120.3,321.0 2119.8,324.3 2119.4,325.4 2119.2,324.5 2118.3,328.8 2117.7,331.9 2117.2,335.0 2116.7,338.0 2116.1,340.8 2115.7,343.3 2115.2,345.7 2114.7,348.1 2114.3,350.6 2113.8,353.1 2113.3,355.7 2112.9,358.4 2112.4,361.2 2111.9,364.1 2111.4,367.1 2111.0,370.0 2110.5,373.0 2110.0,376.2 2109.5,379.3 2108.9,382.2 2108.4,385.1 2107.9,387.9 2107.4,390.5 2106.9,393.2 2106.4,395.9 2105.8,398.6 2105.3,401.5 2104.8,404.1 2104.3,406.8 2103.8,409.5 2103.3,412.2 2102.7,414.9 2102.1,417.7 2101.4,420.3 2100.7,422.8 2100.0,425.1 2099.2,427.6 2098.3,430.2 2097.4,433.0 2096.2,436.4 2095.0,439.9 2093.1,443.5 2091.6,444.9 2089.8,446.1 2088.2,447.6 2086.3,448.3 2082.1,448.6 2079.5,448.7 2076.9,448.4 2074.2,449.1 2071.7,449.3 2069.2,448.4 2066.7,448.3 2064.1,448.6 2061.5,448.1 2058.9,448.7 2056.2,449.4 2053.6,448.9 2050.9,448.7 2048.3,448.6 2045.6,448.1 2043.0,448.2 2040.2,448.2 2037.5,448.2 2034.7,448.4 2032.0,448.2 2029.2,448.8 2026.5,449.1 2023.8,448.3 2021.1,448.2 2018.3,447.5 2015.5,446.6 2012.7,447.4 2010.0,447.7 2007.2,447.6 2004.5,447.8 2001.7,447.2 1999.0,446.8 1996.0,446.6 1993.0,446.2 1990.0,446.1 1987.1,445.8 1984.3,445.9 1980.5,445.9 1976.5,446.0 1974.0,445.9 1971.4,445.4 1968.8,445.3 1966.2,445.5 1963.6,445.5 1960.9,446.0 1958.4,446.7 1955.8,446.6 1953.2,447.0 1950.6,447.5 1948.0,447.4 1945.4,447.8 1942.8,447.7 1940.1,447.5 1937.5,447.9 1934.8,448.2 1929.9,450.4 1925.4,448.5 1921.2,448.0 1917.4,446.5 1914.1,448.0 1911.1,445.9 1908.1,445.3 1905.2,444.6 1902.3,443.7 1898.8,443.8 1894.1,443.7 1891.4,443.9 1888.7,444.1 1885.9,444.5 1883.2,444.8 1880.7,444.9 1878.1,445.3 1875.5,445.2 1872.9,445.2 1870.3,445.9 1867.7,446.1 1865.1,446.0 1862.5,446.4 1859.9,446.1 1857.3,445.8 1854.8,446.1 1852.2,446.3 1849.6,446.4 1847.0,446.6 1844.4,446.7 1841.8,446.8 1839.2,447.1 1836.6,447.2 1833.9,447.6 1831.2,447.6 1828.5,447.1 1825.8,447.7 1821.1,448.1 1817.5,449.8 1814.5,450.1 1811.8,449.4 1809.0,448.8 1806.4,446.5 1804.0,444.0 1801.7,441.5 1799.7,437.6 1797.8,433.3 1796.0,429.3 1794.5,425.4 1793.1,421.1 1792.5,418.4 1792.0,415.7 1791.5,412.8 1791.0,409.9 1790.0,405.6 1789.3,405.6 1788.6,407.5 1787.0,404.5 1786.2,401.3 1785.5,398.0 1784.7,394.6 1784.0,391.2 1783.3,388.2 1782.7,385.2 1782.0,382.4 1781.4,379.6 1780.7,376.8 1780.1,373.9 1779.4,371.0 1778.8,367.9 1778.1,364.9 1777.4,361.8 1776.8,358.8 1776.1,356.1 1775.3,353.3 1774.5,350.8 1773.7,348.5 1773.0,346.1 1772.2,343.5 1771.4,340.8 1770.5,337.7 1769.7,334.5 1768.9,331.3 1768.1,328.2 1767.3,325.3 1766.4,322.6 1765.6,319.9 1764.7,317.2 1763.9,314.5 1763.1,311.5 1762.3,308.3 1761.5,304.8 1760.6,301.5 1759.8,298.7 1759.0,296.3 1758.4,293.8 1757.7,291.3 1757.1,288.9 1756.6,286.5 1755.4,282.0 1754.1,278.8 1752.8,276.7 1751.3,275.3 1749.6,274.3 1747.8,273.6 1745.7,273.0 1743.2,274.3 1740.3,276.5 1737.5,277.3 1734.8,277.1 1732.1,275.1 1729.2,274.4 1725.7,274.5 1721.9,273.7 1718.1,273.3 1714.3,271.1 1710.6,269.6 1707.1,268.2 1704.1,268.7 1701.4,269.5 1698.8,270.2 1696.0,271.5 1693.3,272.4 1690.5,273.9 1687.7,274.8 1685.0,275.3 1682.2,277.1 1679.4,278.2 1676.7,280.9 1673.9,283.5 1671.3,283.1 1668.6,284.3 1665.6,285.3 1662.1,283.7 1658.3,283.7 1654.6,280.1 1651.3,280.0 1648.1,279.3 1644.9,280.0 1641.7,279.8 1638.5,278.9 1635.2,277.8 1632.1,277.2 1629.0,277.7 1625.6,276.9 1621.5,278.3 1617.2,278.4 1613.1,279.9 1609.7,278.3 1606.6,277.4 1603.5,276.1 1600.4,275.3 1597.3,274.9 1593.8,274.2 1589.1,273.2 1586.5,272.8 1583.9,273.4 1580.0,273.9 1578.9,274.6 1579.2,274.6 1578.2,275.7 1574.7,276.6 1570.0,279.1 1567.3,279.4 1564.7,278.7 1561.7,279.4 1558.7,277.8 1555.5,277.6 1552.2,279.3 1549.5,279.1 1546.7,279.7 1543.3,277.4 1540.8,275.3 1537.8,274.3 1533.7,275.5 1529.1,276.8 1524.3,279.5 1521.8,279.6 1519.2,280.5 1516.6,282.6 1513.9,281.8 1511.2,281.2 1508.6,282.7 1506.0,281.9 1503.4,282.0 1500.8,282.7 1498.3,281.0 1495.6,279.3 1492.9,278.3 1490.0,277.6 1487.0,278.2 1484.0,278.1 1481.0,278.3 1477.9,277.8 1474.9,277.0 1471.9,277.1 1468.9,275.5 1465.9,274.2 1462.8,273.1 1459.9,271.8 1456.9,271.6 1453.8,271.6 1450.6,271.2 1447.5,271.5 1444.4,271.5 1440.1,272.3" fill="#008000" fill-opacity="0.5" stroke="none"/><polygon points="1440.1,266.9 1444.8,266.1 1448.0,266.3 1451.3,266.2 1454.1,265.5 1456.9,265.2 1460.3,265.9 1462.7,266.7 1465.9,267.3 1470.7,268.7 1473.5,268.6 1476.3,267.7 1479.0,267.6 1481.6,268.4 1486.2,268.1 1490.5,266.3 1495.1,264.8 1500.1,264.2 1502.7,263.5 1505.3,262.2 1508.1,261.5 1510.8,260.8 1513.8,260.1 1516.8,259.9 1519.9,261.8 1523.0,263.0 1525.9,262.0 1528.8,261.6 1533.6,262.1 1537.9,259.0 1542.3,259.6 1546.7,260.7 1551.1,260.3 1555.7,260.5 1558.4,258.7 1561.1,257.4 1563.9,257.8 1566.7,258.9 1571.4,258.6 1574.8,258.6 1577.4,259.2 1580.0,260.1 1582.7,261.2 1585.4,262.1 1588.3,262.6 1591.4,263.8 1594.7,266.0 1598.0,267.9 1601.2,269.7 1604.4,271.5 1607.6,272.1 1610.8,271.0 1614.0,270.3 1617.3,270.4 1620.8,269.5 1624.4,268.7 1628.3,268.0 1632.7,264.8 1637.4,265.3 1642.2,264.0 1646.8,262.3 1651.5,262.7 1656.0,262.3 1660.4,261.7 1664.6,260.1 1668.4,259.3 1671.5,259.9 1674.1,261.3 1676.7,262.4 1679.3,261.9 1682.0,260.3 1685.0,260.1 1688.5,262.1 1692.2,262.4 1696.0,262.4 1699.8,263.3 1703.6,263.0 1707.1,263.1 1709.9,264.2 1712.5,265.3 1715.4,265.3 1719.0,264.2 1723.0,263.1 1726.4,259.2 1728.6,258.5 1730.1,260.1 1731.9,261.8 1734.5,262.7 1737.4,263.0 1740.2,263.5 1742.9,263.9 1745.4,263.4 1747.8,263.2 1750.0,264.2 1752.1,266.1 1754.0,268.6 1756.1,271.5 1758.0,275.0 1759.6,278.8 1760.2,283.0 1760.4,287.7 1760.8,290.4 1761.1,293.0 1761.8,295.7 1762.5,298.3 1763.4,301.2 1764.3,304.1 1765.2,306.6 1766.0,309.3 1766.8,312.0 1767.7,315.0 1768.5,318.1 1769.4,321.4 1770.2,324.7 1771.0,328.0 1771.8,331.2 1772.6,334.4 1773.4,337.4 1774.2,340.3 1775.0,343.2 1775.8,345.9 1776.6,348.5 1777.4,351.2 1778.2,353.8 1778.9,356.4 1779.5,359.1 1780.2,361.9 1780.8,364.7 1781.5,367.6 1782.2,370.5 1782.7,373.0 1783.3,375.6 1783.9,378.1 1784.4,380.5 1785.0,382.9 1785.5,385.3 1786.1,387.7 1786.8,390.5 1787.6,393.5 1788.3,396.6 1789.1,400.1 1790.4,402.6 1790.9,399.3 1791.6,399.1 1792.3,402.5 1792.9,405.9 1793.5,409.1 1794.0,412.2 1794.6,415.2 1795.4,418.6 1796.2,421.9 1797.7,425.7 1799.2,428.2 1800.9,430.6 1802.8,434.1 1805.0,437.8 1807.1,440.4 1808.8,441.5 1810.5,441.8 1813.3,441.9 1817.8,441.8 1820.6,441.2 1823.3,440.7 1826.1,440.7 1828.9,440.6 1831.4,440.6 1834.0,440.8 1836.6,441.1 1839.2,441.2 1841.8,441.2 1844.4,441.2 1847.0,441.1 1849.6,441.0 1852.2,441.0 1854.8,441.3 1857.3,441.5 1859.9,441.3 1862.5,440.8 1865.1,440.6 1867.7,440.3 1870.3,439.9 1872.9,439.6 1875.5,439.6 1878.1,439.8 1880.8,439.6 1883.5,439.1 1886.2,439.1 1891.0,439.3 1895.2,438.7 1898.8,438.4 1901.9,437.8 1904.3,437.0 1906.2,436.4 1908.1,436.4 1909.8,436.8 1911.6,437.0 1914.3,436.8 1918.8,435.5 1921.6,435.2 1924.3,435.4 1927.1,436.6 1929.9,437.9 1932.5,438.2 1935.0,438.0 1937.6,438.4 1940.2,439.1 1942.8,439.3 1945.4,439.3 1948.0,439.6 1950.6,440.1 1953.2,440.1 1955.8,439.9 1958.4,440.1 1960.9,440.6 1963.6,440.8 1966.2,440.7 1968.8,440.7 1971.4,440.9 1974.0,441.1 1976.5,441.0 1980.5,441.0 1984.3,441.3 1987.1,441.2 1990.0,441.1 1993.0,441.3 1996.0,441.4 1999.0,441.2 2001.7,441.0 2004.5,441.1 2007.2,441.0 2010.0,441.0 2012.7,441.1 2015.5,440.8 2018.3,440.2 2021.1,440.2 2023.8,440.9 2026.5,441.4 2029.2,441.5 2032.0,441.4 2034.7,441.3 2037.5,440.6 2040.2,440.0 2043.0,440.5 2045.6,441.5 2048.3,441.8 2050.9,441.5 2053.6,441.4 2056.2,441.6 2058.9,441.4 2061.6,441.1 2064.2,441.3 2066.8,441.6 2069.3,441.5 2071.9,441.0 2074.4,441.0 2077.0,441.5 2079.5,441.8 2082.1,441.8 2085.7,441.3 2086.8,440.6 2087.7,439.5 2089.1,438.4 2090.3,436.9 2091.9,433.0 2093.0,429.7 2094.2,426.9 2095.1,424.4 2096.0,422.1 2096.9,419.8 2097.8,416.8 2098.7,413.7 2099.6,410.5 2100.3,407.4 2100.9,404.4 2101.6,401.3 2102.2,398.2 2102.7,395.3 2103.3,392.5 2103.8,389.6 2104.3,386.9 2104.8,384.1 2105.3,381.2 2105.8,378.3 2106.4,375.5 2106.9,372.6 2107.4,369.7 2107.9,366.9 2108.3,364.0 2108.8,361.2 2109.3,358.3 2109.7,355.3 2110.2,352.4 2110.6,349.7 2111.0,347.1 2111.4,344.4 2111.8,341.8 2112.2,339.1 2112.6,336.5 2113.0,333.9 2113.6,330.8 2114.1,327.7 2114.6,324.7 2115.2,321.7 2116.1,319.7 2116.4,323.0 2116.9,323.9 2117.4,321.3 2117.8,318.7 2118.2,316.1 2118.6,313.5 2118.9,310.9 2119.5,307.2 2120.0,303.4 2120.5,300.3 2121.0,297.2 2121.5,294.3 2122.0,291.3 2122.6,288.7 2123.1,286.0 2124.3,281.3 2125.5,277.3 2126.6,274.0 2127.6,271.4 2128.6,269.2 2129.7,266.9 2131.2,263.6 2133.0,259.6 2134.9,256.2 2137.2,254.0 2139.8,253.2 2142.2,252.8 2144.2,253.1 2146.2,254.5 2148.4,257.1 2151.0,260.4 2153.9,263.2 2156.7,265.6 2159.2,268.6 2161.6,271.5 2163.9,272.8 2166.3,272.5 2168.7,271.3 2171.2,269.6 2173.9,266.8 2176.7,263.9 2179.5,262.5 2182.2,261.1 2185.0,258.5 2187.8,256.2 2190.5,255.6 2193.3,255.8 2196.1,256.0 2198.7,257.5 2201.4,259.7 2204.4,259.5 2207.8,255.7 2211.5,253.5 2214.7,253.5 2217.0,253.7 2218.9,254.5 2220.9,255.8 2223.5,257.6 2226.4,258.3 2229.2,258.6 2232.0,260.1 2234.7,262.1 2237.5,263.7 2240.2,265.5 2242.9,267.9 2245.8,269.2 2249.1,269.1 2252.6,268.3 2256.2,267.2 2259.9,265.0 2263.6,263.7 2266.5,263.0 2267.9,262.6 2268.6,262.5 2270.0,262.0 2272.9,261.2 2276.7,260.2 2280.4,257.9 2283.8,256.8 2287.3,256.0 2290.7,254.1 2294.2,253.5 2297.6,254.7 2301.1,254.9 2304.5,255.7 2307.8,257.4 2311.5,258.3 2315.4,260.4 2319.7,263.0 2323.9,262.8 2328.2,263.6 2332.5,265.0 2336.3,266.5 2339.4,266.9 2342.0,266.6 2344.6,266.4 2347.3,266.7 2350.0,267.2 2352.9,267.2 2356.2,267.1 2359.7,267.0 2363.3,265.3 2366.7,263.5 2370.2,263.2 2373.6,261.3 2377.1,259.2 2380.5,258.9 2384.0,258.8 2387.4,259.2 2390.9,260.6 2394.4,260.6 2397.8,260.0 2401.3,261.1 2404.7,262.4 2408.2,264.2 2411.6,266.7 2415.1,268.0 2418.6,268.9 2422.1,269.8 2425.4,268.8 2428.5,267.6 2431.3,267.7 2433.7,267.6 2435.7,266.9 2437.2,266.0 2438.3,265.3 2438.3,277.7 2436.6,278.7 2434.2,280.6 2431.7,280.7 2429.1,280.6 2426.3,282.5 2423.4,282.2 2420.1,281.8 2416.5,281.6 2413.0,279.4 2409.5,280.2 2405.9,277.8 2402.6,276.8 2399.9,274.5 2397.3,272.9 2394.4,273.1 2390.4,274.3 2386.1,275.4 2381.9,276.6 2378.3,277.3 2374.9,279.2 2371.6,279.9 2368.2,277.3 2364.8,276.9 2361.2,274.7 2357.2,274.9 2353.0,273.2 2348.8,272.6 2344.6,272.5 2340.5,272.7 2336.3,272.7 2332.2,272.7 2328.0,275.7 2323.9,276.0 2319.7,276.8 2315.6,273.8 2311.5,274.0 2307.2,270.8 2302.9,269.4 2299.0,268.6 2296.0,268.8 2293.5,267.9 2290.7,267.2 2287.4,266.0 2283.9,267.3 2280.4,268.4 2276.7,271.4 2272.9,272.6 2270.0,273.7 2268.6,274.9 2267.9,275.1 2266.5,275.1 2263.6,274.2 2259.9,275.2 2256.2,274.2 2252.6,274.7 2249.0,274.7 2245.8,275.1 2243.5,275.8 2241.7,276.7 2239.6,277.8 2236.9,278.9 2234.0,280.1 2231.3,282.6 2229.2,283.2 2227.4,282.6 2225.1,282.6 2221.9,282.7 2218.3,280.3 2214.7,280.7 2211.2,277.1 2207.7,276.1 2204.4,274.3 2201.4,273.9 2198.7,274.2 2196.1,273.6 2193.3,274.3 2190.5,274.8 2187.8,275.9 2185.0,277.2 2182.2,276.9 2179.5,277.7 2176.7,278.1 2174.0,277.9 2171.2,280.9 2168.4,282.6 2165.5,282.9 2162.9,284.3 2160.8,283.8 2158.8,282.2 2156.7,281.3 2154.0,280.3 2151.1,277.0 2148.4,275.1 2146.2,273.8 2144.2,272.5 2142.2,272.3 2140.1,273.2 2138.0,274.0 2136.0,274.9 2133.8,276.2 2131.6,276.6 2129.7,277.0 2128.3,279.3 2127.1,282.9 2126.0,287.2 2124.9,292.1 2124.4,294.8 2123.9,297.3 2123.4,300.1 2122.9,302.9 2122.4,306.3 2121.8,309.9 2121.4,312.5 2121.1,315.2 2120.7,317.9 2120.3,321.0 2119.8,324.3 2119.4,325.4 2119.2,324.5 2118.3,328.8 2117.7,331.9 2117.2,335.0 2116.7,338.0 2116.1,340.8 2115.7,343.3 2115.2,345.7 2114.7,348.1 2114.3,350.6 2113.8,353.1 2113.3,355.7 2112.9,358.4 2112.4,361.2 2111.9,364.1 2111.4,367.1 2111.0,370.0 2110.5,373.0 2110.0,376.2 2109.5,379.3 2108.9,382.2 2108.4,385.1 2107.9,387.9 2107.4,390.5 2106.9,393.2 2106.4,395.9 2105.8,398.6 2105.3,401.5 2104.8,404.1 2104.3,406.8 2103.8,409.5 2103.3,412.2 2102.7,414.9 2102.1,417.7 2101.4,420.3 2100.7,422.8 2100.0,425.1 2099.2,427.6 2098.3,430.2 2097.4,433.0 2096.2,436.4 2095.0,439.9 2093.1,443.5 2091.6,444.9 2089.8,446.1 2088.2,447.6 2086.3,448.3 2082.1,448.6 2079.5,448.7 2076.9,448.4 2074.2,449.1 2071.7,449.3 2069.2,448.4 2066.7,448.3 2064.1,448.6 2061.5,448.1 2058.9,448.7 2056.2,449.4 2053.6,448.9 2050.9,448.7 2048.3,448.6 2045.6,448.1 2043.0,448.2 2040.2,448.2 2037.5,448.2 2034.7,448.4 2032.0,448.2 2029.2,448.8 2026.5,449.1 2023.8,448.3 2021.1,448.2 2018.3,447.5 2015.5,446.6 2012.7,447.4 2010.0,447.7 2007.2,447.6 2004.5,447.8 2001.7,447.2 1999.0,446.8 1996.0,446.6 1993.0,446.2 1990.0,446.1 1987.1,445.8 1984.3,445.9 1980.5,445.9 1976.5,446.0 1974.0,445.9 1971.4,445.4 1968.8,445.3 1966.2,445.5 1963.6,445.5 1960.9,446.0 1958.4,446.7 1955.8,446.6 1953.2,447.0 1950.6,447.5 1948.0,447.4 1945.4,447.8 1942.8,447.7 1940.1,447.5 1937.5,447.9 1934.8,448.2 1929.9,450.4 1925.4,448.5 1921.2,448.0 1917.4,446.5 1914.1,448.0 1911.1,445.9 1908.1,445.3 1905.2,444.6 1902.3,443.7 1898.8,443.8 1894.1,443.7 1891.4,443.9 1888.7,444.1 1885.9,444.5 1883.2,444.8 1880.7,444.9 1878.1,445.3 1875.5,445.2 1872.9,445.2 1870.3,445.9 1867.7,446.1 1865.1,446.0 1862.5,446.4 1859.9,446.1 1857.3,445.8 1854.8,446.1 1852.2,446.3 1849.6,446.4 1847.0,446.6 1844.4,446.7 1841.8,446.8 1839.2,447.1 1836.6,447.2 1833.9,447.6 1831.2,447.6 1828.5,447.1 1825.8,447.7 1821.1,448.1 1817.5,449.8 1814.5,450.1 1811.8,449.4 1809.0,448.8 1806.4,446.5 1804.0,444.0 1801.7,441.5 1799.7,437.6 1797.8,433.3 1796.0,429.3 1794.5,425.4 1793.1,421.1 1792.5,418.4 1792.0,415.7 1791.5,412.8 1791.0,409.9 1790.0,405.6 1789.3,405.6 1788.6,407.5 1787.0,404.5 1786.2,401.3 1785.5,398.0 1784.7,394.6 1784.0,391.2 1783.3,388.2 1782.7,385.2 1782.0,382.4 1781.4,379.6 1780.7,376.8 1780.1,373.9 1779.4,371.0 1778.8,367.9 1778.1,364.9 1777.4,361.8 1776.8,358.8 1776.1,356.1 1775.3,353.3 1774.5,350.8 1773.7,348.5 1773.0,346.1 1772.2,343.5 1771.4,340.8 1770.5,337.7 1769.7,334.5 1768.9,331.3 1768.1,328.2 1767.3,325.3 1766.4,322.6 1765.6,319.9 1764.7,317.2 1763.9,314.5 1763.1,311.5 1762.3,308.3 1761.5,304.8 1760.6,301.5 1759.8,298.7 1759.0,296.3 1758.4,293.8 1757.7,291.3 1757.1,288.9 1756.6,286.5 1755.4,282.0 1754.1,278.8 1752.8,276.7 1751.3,275.3 1749.6,274.3 1747.8,273.6 1745.7,273.0 1743.2,274.3 1740.3,276.5 1737.5,277.3 1734.8,277.1 1732.1,275.1 1729.2,274.4 1725.7,274.5 1721.9,273.7 1718.1,273.3 1714.3,271.1 1710.6,269.6 1707.1,268.2 1704.1,268.7 1701.4,269.5 1698.8,270.2 1696.0,271.5 1693.3,272.4 1690.5,273.9 1687.7,274.8 1685.0,275.3 1682.2,277.1 1679.4,278.2 1676.7,280.9 1673.9,283.5 1671.3,283.1 1668.6,284.3 1665.6,285.3 1662.1,283.7 1658.3,283.7 1654.6,280.1 1651.3,280.0 1648.1,279.3 1644.9,280.0 1641.7,279.8 1638.5,278.9 1635.2,277.8 1632.1,277.2 1629.0,277.7 1625.6,276.9 1621.5,278.3 1617.2,278.4 1613.1,279.9 1609.7,278.3 1606.6,277.4 1603.5,276.1 1600.4,275.3 1597.3,274.9 1593.8,274.2 1589.1,273.2 1586.5,272.8 1583.9,273.4 1580.0,273.9 1578.9,274.6 1579.2,274.6 1578.2,275.7 1574.7,276.6 1570.0,279.1 1567.3,279.4 1564.7,278.7 1561.7,279.4 1558.7,277.8 1555.5,277.6 1552.2,279.3 1549.5,279.1 1546.7,279.7 1543.3,277.4 1540.8,275.3 1537.8,274.3 1533.7,275.5 1529.1,276.8 1524.3,279.5 1521.8,279.6 1519.2,280.5 1516.6,282.6 1513.9,281.8 1511.2,281.2 1508.6,282.7 1506.0,281.9 1503.4,282.0 1500.8,282.7 1498.3,281.0 1495.6,279.3 1492.9,278.3 1490.0,277.6 1487.0,278.2 1484.0,278.1 1481.0,278.3 1477.9,277.8 1474.9,277.0 1471.9,277.1 1468.9,275.5 1465.9,274.2 1462.8,273.1 1459.9,271.8 1456.9,271.6 1453.8,271.6 1450.6,271.2 1447.5,271.5 1444.4,271.5 1440.1,272.3" fill="none" stroke="#808080" stroke-opacity="1.0" stroke-width="2.8" stroke-linejoin="round"/>
<polygon points="1439.0,238.1 1444.0,237.8 1447.5,237.0 1451.0,236.2 1453.9,236.2 1456.9,235.6 1460.3,236.3 1462.6,237.8 1465.9,239.1 1468.7,238.7 1471.5,238.3 1474.8,238.9 1478.1,238.0 1481.0,237.6 1483.9,237.7 1488.2,235.9 1491.8,235.0 1495.1,232.1 1498.0,233.9 1500.7,234.3 1504.1,233.2 1508.9,235.8 1511.7,235.0 1514.5,235.3 1517.1,235.4 1519.8,235.2 1524.5,234.1 1528.9,232.5 1533.3,230.2 1537.9,229.7 1542.4,229.6 1546.7,229.0 1550.7,227.2 1554.3,228.4 1558.0,226.4 1561.7,229.5 1565.5,228.0 1569.2,228.6 1573.0,228.8 1576.7,229.1 1580.0,229.2 1582.6,228.9 1584.7,230.4 1586.9,231.8 1589.1,232.0 1591.2,232.6 1593.8,234.2 1597.2,235.1 1601.1,236.0 1604.9,237.4 1608.1,239.1 1611.2,237.0 1614.5,235.6 1618.7,234.7 1623.2,234.0 1627.0,235.0 1629.2,235.1 1630.6,236.6 1632.5,237.7 1635.4,235.4 1638.8,234.0 1642.2,234.1 1645.4,232.2 1648.6,234.4 1651.8,235.0 1655.2,234.6 1658.6,235.8 1661.5,235.0 1663.6,233.2 1665.3,231.0 1667.0,229.7 1668.7,231.0 1670.4,233.8 1672.5,235.7 1675.5,234.4 1678.9,233.2 1682.2,231.2 1685.0,230.7 1687.6,231.9 1690.5,231.5 1694.2,232.2 1698.2,229.7 1701.5,229.0 1703.7,231.8 1705.2,233.1 1707.1,233.8 1709.5,235.1 1712.3,237.2 1715.4,236.8 1719.0,235.0 1723.0,233.7 1726.4,233.9 1728.7,235.0 1730.3,236.1 1731.9,236.6 1733.8,236.5 1735.6,236.3 1737.5,236.1 1739.3,236.4 1741.2,237.1 1743.0,237.2 1744.6,236.4 1746.1,235.3 1747.8,235.4 1749.8,236.7 1752.0,237.6 1754.0,238.5 1755.9,240.9 1757.7,244.3 1759.6,246.7 1761.6,246.9 1763.6,247.9 1765.1,250.9 1765.6,253.8 1765.7,256.6 1766.3,260.6 1767.8,264.8 1769.9,269.1 1771.2,272.6 1772.5,276.7 1773.4,279.9 1774.2,283.0 1775.1,286.0 1775.9,288.5 1776.9,291.2 1777.9,293.7 1778.9,296.3 1779.9,299.2 1780.7,301.8 1781.5,304.6 1782.3,307.2 1783.1,309.8 1783.9,312.1 1784.6,314.3 1785.4,316.5 1786.1,318.8 1786.8,321.3 1787.6,324.2 1788.3,327.4 1789.0,330.8 1789.8,334.3 1790.5,337.8 1791.2,341.1 1791.9,344.0 1792.6,346.5 1793.3,348.9 1794.1,351.1 1794.8,353.3 1795.7,355.8 1796.7,358.5 1797.6,361.3 1798.6,364.4 1799.5,367.1 1800.4,369.9 1801.4,372.7 1802.3,375.5 1803.3,378.4 1804.2,381.3 1805.1,384.1 1806.2,388.0 1806.3,389.1 1807.1,390.1 1809.0,391.5 1811.6,393.1 1814.9,394.6 1819.0,396.6 1823.8,399.9 1826.3,401.0 1828.9,402.3 1831.4,403.1 1833.9,403.9 1836.5,405.6 1839.2,407.0 1841.8,407.7 1844.4,409.2 1847.0,410.5 1849.6,410.9 1852.2,412.1 1854.8,413.9 1857.3,414.9 1859.9,415.7 1862.5,416.3 1865.1,416.8 1867.7,417.4 1870.3,418.1 1872.9,418.7 1875.5,419.6 1878.1,420.2 1880.8,420.3 1883.5,420.7 1886.2,421.4 1891.0,423.1 1895.0,423.2 1898.5,423.3 1901.9,423.6 1905.1,422.3 1908.0,423.3 1911.2,422.9 1914.9,421.0 1918.8,421.8 1922.1,422.4 1924.5,423.7 1926.4,423.6 1928.3,422.8 1930.2,423.4 1932.1,425.5 1934.5,427.5 1937.7,429.2 1941.5,431.7 1945.4,432.5 1949.5,432.2 1953.7,433.8 1957.8,434.5 1961.6,434.2 1965.3,433.5 1968.7,432.2 1972.0,432.7 1975.2,432.0 1978.0,432.2 1980.4,432.7 1982.3,433.0 1984.3,433.8 1985.3,434.5 1986.2,435.3 1990.0,436.2 1992.8,436.1 1995.6,436.4 1998.4,436.5 2001.2,436.5 2004.1,437.0 2006.9,437.5 2009.7,437.9 2012.5,437.7 2015.4,437.5 2018.2,438.0 2021.1,438.3 2023.8,438.5 2026.6,438.8 2029.3,438.4 2032.0,438.4 2034.8,438.8 2037.6,438.6 2040.4,439.2 2043.2,439.8 2045.8,438.9 2048.4,438.5 2051.0,439.1 2053.6,439.1 2056.8,439.3 2060.1,439.8 2063.4,439.4 2066.4,439.3 2069.4,439.1 2072.5,439.4 2076.0,439.6 2079.5,439.0 2083.4,438.7 2085.2,438.2 2086.6,437.4 2088.1,437.0 2089.3,436.0 2090.8,432.5 2091.9,428.7 2093.1,425.1 2094.0,422.1 2094.9,419.4 2095.8,416.7 2096.5,414.2 2097.2,411.6 2097.9,408.7 2098.6,405.7 2099.2,402.1 2099.9,398.4 2100.5,394.8 2101.1,391.5 2101.7,388.8 2102.2,386.2 2102.7,383.8 2103.2,381.5 2103.7,379.4 2104.3,377.1 2104.8,374.8 2105.3,372.4 2105.8,369.8 2106.3,367.0 2106.8,364.0 2107.4,360.8 2107.9,357.5 2108.4,354.1 2108.9,350.8 2109.3,347.9 2109.7,345.0 2110.2,342.3 2110.6,339.6 2111.0,337.0 2111.5,334.4 2111.9,331.8 2112.3,329.1 2112.8,326.4 2113.2,323.7 2113.7,321.0 2114.1,318.1 2114.5,315.2 2114.9,312.2 2115.3,309.2 2115.8,306.2 2116.2,303.1 2116.6,300.1 2117.0,297.1 2117.4,294.5 2117.8,291.9 2118.2,289.3 2118.5,286.9 2118.9,284.5 2119.3,282.1 2119.7,279.8 2120.0,277.6 2120.4,275.2 2120.8,272.8 2121.3,270.3 2121.7,267.8 2122.1,265.2 2122.5,262.6 2123.0,259.4 2123.5,256.2 2124.0,253.0 2124.5,250.2 2125.0,247.5 2126.0,243.2 2127.2,239.3 2128.4,236.5 2129.7,233.9 2131.4,230.6 2133.1,227.0 2134.9,224.8 2136.6,224.5 2138.4,224.9 2140.1,224.9 2141.9,224.6 2143.6,224.6 2145.3,225.1 2146.7,226.5 2147.9,228.5 2149.4,231.4 2151.3,235.0 2153.4,238.4 2155.6,240.9 2157.9,244.5 2160.2,247.7 2162.9,248.2 2166.2,246.3 2169.8,244.0 2173.3,241.3 2176.2,240.5 2178.9,237.3 2181.6,234.7 2184.4,234.4 2187.2,231.1 2189.8,229.1 2192.0,230.5 2193.9,231.4 2196.1,230.3 2198.7,229.7 2201.7,231.5 2204.4,232.2 2206.6,232.5 2208.6,232.1 2210.6,230.9 2212.6,229.7 2214.6,229.3 2216.8,229.2 2219.6,229.6 2222.5,232.0 2225.1,233.7 2226.6,234.2 2227.7,234.7 2229.2,235.4 2231.8,235.5 2234.7,234.5 2237.5,236.1 2239.7,236.6 2241.7,234.5 2243.7,233.5 2245.8,236.5 2247.9,240.2 2249.9,241.2 2252.0,240.6 2254.1,240.1 2256.2,240.1 2258.2,238.7 2260.2,236.9 2262.4,236.4 2264.8,236.6 2267.4,236.8 2270.0,237.5 2272.8,237.1 2275.7,234.9 2278.3,233.2 2280.5,231.3 2282.5,228.9 2284.5,227.1 2286.5,226.4 2288.5,226.2 2290.7,226.9 2293.2,228.4 2295.9,228.3 2299.0,228.0 2303.0,230.6 2307.5,229.5 2311.5,231.7 2314.4,231.0 2317.0,232.5 2319.7,233.8 2323.0,233.9 2326.6,236.4 2330.1,235.4 2333.5,235.8 2336.9,235.6 2340.5,234.5 2344.5,236.0 2348.7,237.1 2352.9,238.1 2357.3,239.6 2361.7,238.7 2365.3,239.6 2367.9,238.5 2369.7,237.0 2371.6,236.8 2373.6,237.3 2375.5,237.0 2377.8,236.6 2380.3,237.4 2383.1,235.8 2386.1,233.7 2389.4,235.7 2392.9,233.2 2396.4,233.2 2400.0,234.7 2403.5,235.3 2406.8,237.1 2409.7,237.7 2412.4,239.2 2415.1,239.8 2417.8,240.0 2420.6,241.0 2423.4,240.6 2426.2,239.4 2429.0,238.4 2431.7,237.6 2434.2,237.9 2436.6,237.2 2438.3,235.2 2438.3,253.9 2436.1,254.1 2432.9,254.6 2429.6,254.3 2426.2,251.9 2422.6,251.0 2419.2,251.7 2416.3,251.3 2413.6,251.1 2410.9,251.3 2408.2,250.0 2405.4,247.0 2402.6,244.7 2399.9,245.6 2397.1,248.4 2394.4,250.4 2391.6,251.2 2388.8,252.0 2386.1,252.5 2383.3,253.0 2380.5,253.8 2377.8,254.4 2375.0,254.2 2372.2,253.7 2369.5,253.7 2366.7,253.5 2364.0,252.5 2361.2,250.8 2358.5,248.9 2355.8,246.8 2352.9,245.4 2349.4,245.9 2345.8,247.7 2342.5,247.5 2340.4,246.3 2338.7,245.1 2336.3,244.4 2332.6,243.9 2328.3,244.4 2323.9,246.6 2319.7,246.1 2315.6,246.1 2311.5,244.9 2307.2,242.6 2302.9,242.4 2299.0,240.9 2296.0,239.9 2293.5,239.7 2290.7,239.9 2287.4,239.7 2283.9,240.0 2280.4,241.4 2276.7,243.1 2272.9,244.5 2270.0,244.9 2268.6,245.3 2267.9,245.8 2266.5,246.3 2263.6,247.3 2259.9,248.5 2256.2,249.1 2252.6,249.1 2249.1,248.3 2245.8,248.0 2242.8,250.0 2240.0,251.2 2237.5,250.7 2235.3,250.4 2233.3,251.3 2231.3,252.8 2229.5,254.3 2227.6,255.2 2225.1,255.0 2221.2,255.0 2216.7,253.4 2212.6,249.8 2209.7,249.0 2207.3,248.6 2204.4,247.6 2200.6,247.1 2196.4,247.6 2191.9,246.6 2186.9,247.4 2184.3,247.9 2181.7,248.0 2177.4,249.4 2174.8,251.2 2173.1,252.4 2171.2,253.5 2168.7,254.5 2165.9,254.6 2162.9,254.2 2159.4,253.2 2155.8,252.8 2152.5,252.7 2150.2,252.4 2148.2,251.8 2146.3,250.8 2144.2,249.0 2142.0,246.9 2140.1,245.4 2138.6,244.7 2137.3,244.4 2136.0,244.1 2134.5,243.4 2133.1,242.5 2131.8,242.3 2130.9,243.3 2130.1,245.3 2129.3,248.2 2128.4,252.1 2127.5,256.9 2126.6,261.9 2125.9,265.4 2125.2,269.0 2124.6,272.7 2123.9,276.3 2123.5,279.0 2123.0,281.6 2122.6,284.1 2122.2,286.6 2121.7,289.0 2121.3,291.6 2120.8,294.1 2120.3,296.6 2119.9,299.1 2119.4,301.6 2118.9,304.0 2118.5,306.6 2118.0,309.1 2117.6,311.7 2117.1,314.3 2116.6,317.0 2116.2,319.7 2115.7,322.3 2115.3,324.8 2114.9,327.4 2114.4,330.1 2114.0,332.7 2113.6,335.2 2113.1,337.8 2112.7,340.4 2112.3,343.0 2111.8,345.5 2111.4,348.1 2111.0,350.6 2110.6,353.0 2110.1,355.4 2109.7,357.9 2109.3,360.3 2108.8,362.8 2108.4,365.3 2107.9,368.3 2107.4,371.3 2106.8,374.4 2106.3,377.5 2105.8,380.7 2105.3,383.8 2104.8,387.0 2104.3,390.1 2103.7,393.3 2103.2,396.4 2102.7,399.2 2102.2,401.9 2101.7,404.6 2101.1,407.3 2100.6,409.8 2099.9,412.6 2099.3,415.2 2098.6,417.9 2097.9,420.6 2097.2,422.8 2096.5,425.1 2095.9,427.5 2095.2,429.8 2094.4,432.2 2093.6,434.6 2092.9,437.0 2091.4,440.7 2090.3,441.9 2088.7,442.9 2086.6,444.0 2084.0,445.2 2079.5,446.4 2075.9,446.4 2072.3,446.2 2069.3,445.8 2066.3,445.7 2063.3,445.8 2060.1,445.6 2056.8,445.3 2053.6,445.6 2051.0,445.8 2048.4,445.7 2045.8,445.2 2043.2,444.9 2040.4,444.7 2037.6,444.5 2034.8,444.4 2032.0,444.8 2029.3,444.9 2026.6,444.5 2023.8,443.8 2021.1,443.7 2018.2,443.8 2015.4,443.5 2012.5,443.0 2009.7,442.8 2006.9,442.8 2004.1,442.5 2001.2,442.1 1998.4,442.0 1995.6,441.7 1992.8,441.2 1990.0,440.8 1986.6,440.4 1986.0,440.1 1984.3,440.0 1979.8,440.0 1977.0,440.2 1974.3,440.1 1971.5,439.8 1968.7,439.6 1966.1,439.6 1963.5,439.7 1960.9,440.0 1958.4,440.6 1955.8,440.8 1953.2,440.6 1950.6,440.1 1947.9,440.2 1945.3,440.3 1942.7,439.7 1940.2,438.7 1937.6,438.1 1932.7,438.7 1927.9,438.6 1923.6,438.7 1920.1,435.9 1917.1,433.9 1914.3,434.2 1911.9,434.7 1909.7,433.9 1906.6,432.2 1901.9,431.1 1899.2,430.4 1896.5,429.5 1893.7,428.9 1891.0,428.4 1888.4,427.9 1885.8,427.4 1883.2,426.9 1880.7,426.4 1878.1,425.8 1875.5,425.0 1872.9,424.3 1870.3,423.5 1867.7,422.8 1865.1,422.2 1862.5,421.6 1859.9,421.0 1857.3,420.0 1854.8,419.1 1852.2,418.1 1849.6,417.0 1847.0,415.5 1844.4,414.3 1841.9,413.7 1839.3,413.1 1836.8,412.0 1834.3,410.5 1831.6,409.0 1828.9,407.9 1825.7,406.3 1822.5,404.7 1819.2,403.4 1815.8,401.8 1813.0,399.9 1810.2,398.4 1806.4,397.0 1803.6,395.1 1800.9,389.3 1800.0,386.2 1799.1,383.2 1798.2,380.4 1797.5,377.7 1796.9,375.1 1796.2,372.4 1795.6,369.8 1794.9,367.0 1794.1,364.1 1793.4,361.2 1792.7,358.3 1792.0,355.7 1791.3,353.2 1790.7,350.6 1790.0,348.0 1789.3,345.4 1788.6,342.7 1787.8,339.9 1787.1,337.1 1786.3,334.2 1785.6,331.3 1784.8,328.5 1784.1,325.7 1783.3,322.8 1782.6,320.0 1781.8,317.2 1781.0,314.5 1780.2,311.8 1779.5,309.2 1778.7,306.6 1777.9,304.1 1777.1,301.7 1776.3,299.2 1775.5,296.8 1774.7,294.3 1773.9,291.8 1773.0,289.2 1772.1,286.6 1771.3,284.0 1770.4,281.4 1769.2,278.1 1768.0,274.7 1766.1,270.1 1764.2,265.8 1762.2,261.1 1760.2,257.2 1758.5,254.6 1757.3,253.0 1756.4,252.2 1755.4,251.3 1754.2,250.0 1752.8,248.6 1751.3,247.5 1749.6,247.0 1747.7,247.2 1745.7,247.8 1743.5,248.4 1741.2,248.4 1738.8,248.4 1736.6,249.0 1734.3,249.5 1731.9,249.2 1729.3,248.1 1726.5,247.4 1723.6,248.0 1720.9,248.4 1718.1,247.6 1715.4,246.6 1712.5,244.9 1709.6,242.2 1707.1,240.3 1705.0,240.3 1703.3,241.4 1701.5,242.8 1699.7,243.7 1697.9,243.9 1696.0,243.5 1694.3,242.7 1692.5,242.2 1690.5,242.7 1687.9,244.2 1685.1,245.7 1682.2,246.9 1679.4,247.5 1676.7,248.3 1673.9,249.6 1671.3,251.4 1668.6,252.9 1665.6,253.6 1662.1,254.2 1658.3,253.7 1654.6,252.4 1651.3,252.7 1648.1,252.5 1644.9,251.1 1641.7,250.5 1638.5,250.4 1635.2,248.8 1632.1,247.8 1628.9,248.6 1625.6,248.6 1621.9,247.9 1618.1,250.2 1614.5,251.8 1611.6,250.9 1609.0,249.7 1606.2,248.7 1603.1,246.9 1599.7,245.2 1596.6,244.5 1593.7,244.0 1591.0,243.1 1588.3,242.4 1585.3,242.9 1582.3,244.3 1580.0,245.4 1579.3,246.1 1579.4,246.9 1578.2,248.0 1574.6,248.7 1569.6,249.3 1564.7,251.5 1560.3,251.6 1555.9,252.7 1551.2,252.2 1548.6,251.1 1546.0,250.9 1543.3,250.2 1540.5,248.4 1535.5,246.9 1531.5,246.7 1528.0,244.1 1524.3,243.1 1520.0,242.8 1515.4,242.4 1510.8,244.4 1506.7,245.7 1502.5,246.0 1499.9,246.1 1497.4,246.2 1493.9,246.6 1490.4,247.9 1487.7,248.0 1485.0,247.5 1482.4,247.2 1478.6,246.9 1474.9,246.7 1471.7,246.2 1468.6,245.7 1465.7,245.3 1462.8,245.5 1459.9,245.9 1456.9,245.0 1453.6,243.6 1450.3,243.3 1447.0,243.3 1443.6,243.0 1439.0,242.9" fill="#bf00bf" fill-opacity="0.5" stroke="none"/><polygon points="1439.0,238.1 1444.0,237.8 1447.5,237.0 1451.0,236.2 1453.9,236.2 1456.9,235.6 1460.3,236.3 1462.6,237.8 1465.9,239.1 1468.7,238.7 1471.5,238.3 1474.8,238.9 1478.1,238.0 1481.0,237.6 1483.9,237.7 1488.2,235.9 1491.8,235.0 1495.1,232.1 1498.0,233.9 1500.7,234.3 1504.1,233.2 1508.9,235.8 1511.7,235.0 1514.5,235.3 1517.1,235.4 1519.8,235.2 1524.5,234.1 1528.9,232.5 1533.3,230.2 1537.9,229.7 1542.4,229.6 1546.7,229.0 1550.7,227.2 1554.3,228.4 1558.0,226.4 1561.7,229.5 1565.5,228.0 1569.2,228.6 1573.0,228.8 1576.7,229.1 1580.0,229.2 1582.6,228.9 1584.7,230.4 1586.9,231.8 1589.1,232.0 1591.2,232.6 1593.8,234.2 1597.2,235.1 1601.1,236.0 1604.9,237.4 1608.1,239.1 1611.2,237.0 1614.5,235.6 1618.7,234.7 1623.2,234.0 1627.0,235.0 1629.2,235.1 1630.6,236.6 1632.5,237.7 1635.4,235.4 1638.8,234.0 1642.2,234.1 1645.4,232.2 1648.6,234.4 1651.8,235.0 1655.2,234.6 1658.6,235.8 1661.5,235.0 1663.6,233.2 1665.3,231.0 1667.0,229.7 1668.7,231.0 1670.4,233.8 1672.5,235.7 1675.5,234.4 1678.9,233.2 1682.2,231.2 1685.0,230.7 1687.6,231.9 1690.5,231.5 1694.2,232.2 1698.2,229.7 1701.5,229.0 1703.7,231.8 1705.2,233.1 1707.1,233.8 1709.5,235.1 1712.3,237.2 1715.4,236.8 1719.0,235.0 1723.0,233.7 1726.4,233.9 1728.7,235.0 1730.3,236.1 1731.9,236.6 1733.8,236.5 1735.6,236.3 1737.5,236.1 1739.3,236.4 1741.2,237.1 1743.0,237.2 1744.6,236.4 1746.1,235.3 1747.8,235.4 1749.8,236.7 1752.0,237.6 1754.0,238.5 1755.9,240.9 1757.7,244.3 1759.6,246.7 1761.6,246.9 1763.6,247.9 1765.1,250.9 1765.6,253.8 1765.7,256.6 1766.3,260.6 1767.8,264.8 1769.9,269.1 1771.2,272.6 1772.5,276.7 1773.4,279.9 1774.2,283.0 1775.1,286.0 1775.9,288.5 1776.9,291.2 1777.9,293.7 1778.9,296.3 1779.9,299.2 1780.7,301.8 1781.5,304.6 1782.3,307.2 1783.1,309.8 1783.9,312.1 1784.6,314.3 1785.4,316.5 1786.1,318.8 1786.8,321.3 1787.6,324.2 1788.3,327.4 1789.0,330.8 1789.8,334.3 1790.5,337.8 1791.2,341.1 1791.9,344.0 1792.6,346.5 1793.3,348.9 1794.1,351.1 1794.8,353.3 1795.7,355.8 1796.7,358.5 1797.6,361.3 1798.6,364.4 1799.5,367.1 1800.4,369.9 1801.4,372.7 1802.3,375.5 1803.3,378.4 1804.2,381.3 1805.1,384.1 1806.2,388.0 1806.3,389.1 1807.1,390.1 1809.0,391.5 1811.6,393.1 1814.9,394.6 1819.0,396.6 1823.8,399.9 1826.3,401.0 1828.9,402.3 1831.4,403.1 1833.9,403.9 1836.5,405.6 1839.2,407.0 1841.8,407.7 1844.4,409.2 1847.0,410.5 1849.6,410.9 1852.2,412.1 1854.8,413.9 1857.3,414.9 1859.9,415.7 1862.5,416.3 1865.1,416.8 1867.7,417.4 1870.3,418.1 1872.9,418.7 1875.5,419.6 1878.1,420.2 1880.8,420.3 1883.5,420.7 1886.2,421.4 1891.0,423.1 1895.0,423.2 1898.5,423.3 1901.9,423.6 1905.1,422.3 1908.0,423.3 1911.2,422.9 1914.9,421.0 1918.8,421.8 1922.1,422.4 1924.5,423.7 1926.4,423.6 1928.3,422.8 1930.2,423.4 1932.1,425.5 1934.5,427.5 1937.7,429.2 1941.5,431.7 1945.4,432.5 1949.5,432.2 1953.7,433.8 1957.8,434.5 1961.6,434.2 1965.3,433.5 1968.7,432.2 1972.0,432.7 1975.2,432.0 1978.0,432.2 1980.4,432.7 1982.3,433.0 1984.3,433.8 1985.3,434.5 1986.2,435.3 1990.0,436.2 1992.8,436.1 1995.6,436.4 1998.4,436.5 2001.2,436.5 2004.1,437.0 2006.9,437.5 2009.7,437.9 2012.5,437.7 2015.4,437.5 2018.2,438.0 2021.1,438.3 2023.8,438.5 2026.6,438.8 2029.3,438.4 2032.0,438.4 2034.8,438.8 2037.6,438.6 2040.4,439.2 2043.2,439.8 2045.8,438.9 2048.4,438.5 2051.0,439.1 2053.6,439.1 2056.8,439.3 2060.1,439.8 2063.4,439.4 2066.4,439.3 2069.4,439.1 2072.5,439.4 2076.0,439.6 2079.5,439.0 2083.4,438.7 2085.2,438.2 2086.6,437.4 2088.1,437.0 2089.3,436.0 2090.8,432.5 2091.9,428.7 2093.1,425.1 2094.0,422.1 2094.9,419.4 2095.8,416.7 2096.5,414.2 2097.2,411.6 2097.9,408.7 2098.6,405.7 2099.2,402.1 2099.9,398.4 2100.5,394.8 2101.1,391.5 2101.7,388.8 2102.2,386.2 2102.7,383.8 2103.2,381.5 2103.7,379.4 2104.3,377.1 2104.8,374.8 2105.3,372.4 2105.8,369.8 2106.3,367.0 2106.8,364.0 2107.4,360.8 2107.9,357.5 2108.4,354.1 2108.9,350.8 2109.3,347.9 2109.7,345.0 2110.2,342.3 2110.6,339.6 2111.0,337.0 2111.5,334.4 2111.9,331.8 2112.3,329.1 2112.8,326.4 2113.2,323.7 2113.7,321.0 2114.1,318.1 2114.5,315.2 2114.9,312.2 2115.3,309.2 2115.8,306.2 2116.2,303.1 2116.6,300.1 2117.0,297.1 2117.4,294.5 2117.8,291.9 2118.2,289.3 2118.5,286.9 2118.9,284.5 2119.3,282.1 2119.7,279.8 2120.0,277.6 2120.4,275.2 2120.8,272.8 2121.3,270.3 2121.7,267.8 2122.1,265.2 2122.5,262.6 2123.0,259.4 2123.5,256.2 2124.0,253.0 2124.5,250.2 2125.0,247.5 2126.0,243.2 2127.2,239.3 2128.4,236.5 2129.7,233.9 2131.4,230.6 2133.1,227.0 2134.9,224.8 2136.6,224.5 2138.4,224.9 2140.1,224.9 2141.9,224.6 2143.6,224.6 2145.3,225.1 2146.7,226.5 2147.9,228.5 2149.4,231.4 2151.3,235.0 2153.4,238.4 2155.6,240.9 2157.9,244.5 2160.2,247.7 2162.9,248.2 2166.2,246.3 2169.8,244.0 2173.3,241.3 2176.2,240.5 2178.9,237.3 2181.6,234.7 2184.4,234.4 2187.2,231.1 2189.8,229.1 2192.0,230.5 2193.9,231.4 2196.1,230.3 2198.7,229.7 2201.7,231.5 2204.4,232.2 2206.6,232.5 2208.6,232.1 2210.6,230.9 2212.6,229.7 2214.6,229.3 2216.8,229.2 2219.6,229.6 2222.5,232.0 2225.1,233.7 2226.6,234.2 2227.7,234.7 2229.2,235.4 2231.8,235.5 2234.7,234.5 2237.5,236.1 2239.7,236.6 2241.7,234.5 2243.7,233.5 2245.8,236.5 2247.9,240.2 2249.9,241.2 2252.0,240.6 2254.1,240.1 2256.2,240.1 2258.2,238.7 2260.2,236.9 2262.4,236.4 2264.8,236.6 2267.4,236.8 2270.0,237.5 2272.8,237.1 2275.7,234.9 2278.3,233.2 2280.5,231.3 2282.5,228.9 2284.5,227.1 2286.5,226.4 2288.5,226.2 2290.7,226.9 2293.2,228.4 2295.9,228.3 2299.0,228.0 2303.0,230.6 2307.5,229.5 2311.5,231.7 2314.4,231.0 2317.0,232.5 2319.7,233.8 2323.0,233.9 2326.6,236.4 2330.1,235.4 2333.5,235.8 2336.9,235.6 2340.5,234.5 2344.5,236.0 2348.7,237.1 2352.9,238.1 2357.3,239.6 2361.7,238.7 2365.3,239.6 2367.9,238.5 2369.7,237.0 2371.6,236.8 2373.6,237.3 2375.5,237.0 2377.8,236.6 2380.3,237.4 2383.1,235.8 2386.1,233.7 2389.4,235.7 2392.9,233.2 2396.4,233.2 2400.0,234.7 2403.5,235.3 2406.8,237.1 2409.7,237.7 2412.4,239.2 2415.1,239.8 2417.8,240.0 2420.6,241.0 2423.4,240.6 2426.2,239.4 2429.0,238.4 2431.7,237.6 2434.2,237.9 2436.6,237.2 2438.3,235.2 2438.3,253.9 2436.1,254.1 2432.9,254.6 2429.6,254.3 2426.2,251.9 2422.6,251.0 2419.2,251.7 2416.3,251.3 2413.6,251.1 2410.9,251.3 2408.2,250.0 2405.4,247.0 2402.6,244.7 2399.9,245.6 2397.1,248.4 2394.4,250.4 2391.6,251.2 2388.8,252.0 2386.1,252.5 2383.3,253.0 2380.5,253.8 2377.8,254.4 2375.0,254.2 2372.2,253.7 2369.5,253.7 2366.7,253.5 2364.0,252.5 2361.2,250.8 2358.5,248.9 2355.8,246.8 2352.9,245.4 2349.4,245.9 2345.8,247.7 2342.5,247.5 2340.4,246.3 2338.7,245.1 2336.3,244.4 2332.6,243.9 2328.3,244.4 2323.9,246.6 2319.7,246.1 2315.6,246.1 2311.5,244.9 2307.2,242.6 2302.9,242.4 2299.0,240.9 2296.0,239.9 2293.5,239.7 2290.7,239.9 2287.4,239.7 2283.9,240.0 2280.4,241.4 2276.7,243.1 2272.9,244.5 2270.0,244.9 2268.6,245.3 2267.9,245.8 2266.5,246.3 2263.6,247.3 2259.9,248.5 2256.2,249.1 2252.6,249.1 2249.1,248.3 2245.8,248.0 2242.8,250.0 2240.0,251.2 2237.5,250.7 2235.3,250.4 2233.3,251.3 2231.3,252.8 2229.5,254.3 2227.6,255.2 2225.1,255.0 2221.2,255.0 2216.7,253.4 2212.6,249.8 2209.7,249.0 2207.3,248.6 2204.4,247.6 2200.6,247.1 2196.4,247.6 2191.9,246.6 2186.9,247.4 2184.3,247.9 2181.7,248.0 2177.4,249.4 2174.8,251.2 2173.1,252.4 2171.2,253.5 2168.7,254.5 2165.9,254.6 2162.9,254.2 2159.4,253.2 2155.8,252.8 2152.5,252.7 2150.2,252.4 2148.2,251.8 2146.3,250.8 2144.2,249.0 2142.0,246.9 2140.1,245.4 2138.6,244.7 2137.3,244.4 2136.0,244.1 2134.5,243.4 2133.1,242.5 2131.8,242.3 2130.9,243.3 2130.1,245.3 2129.3,248.2 2128.4,252.1 2127.5,256.9 2126.6,261.9 2125.9,265.4 2125.2,269.0 2124.6,272.7 2123.9,276.3 2123.5,279.0 2123.0,281.6 2122.6,284.1 2122.2,286.6 2121.7,289.0 2121.3,291.6 2120.8,294.1 2120.3,296.6 2119.9,299.1 2119.4,301.6 2118.9,304.0 2118.5,306.6 2118.0,309.1 2117.6,311.7 2117.1,314.3 2116.6,317.0 2116.2,319.7 2115.7,322.3 2115.3,324.8 2114.9,327.4 2114.4,330.1 2114.0,332.7 2113.6,335.2 2113.1,337.8 2112.7,340.4 2112.3,343.0 2111.8,345.5 2111.4,348.1 2111.0,350.6 2110.6,353.0 2110.1,355.4 2109.7,357.9 2109.3,360.3 2108.8,362.8 2108.4,365.3 2107.9,368.3 2107.4,371.3 2106.8,374.4 2106.3,377.5 2105.8,380.7 2105.3,383.8 2104.8,387.0 2104.3,390.1 2103.7,393.3 2103.2,396.4 2102.7,399.2 2102.2,401.9 2101.7,404.6 2101.1,407.3 2100.6,409.8 2099.9,412.6 2099.3,415.2 2098.6,417.9 2097.9,420.6 2097.2,422.8 2096.5,425.1 2095.9,427.5 2095.2,429.8 2094.4,432.2 2093.6,434.6 2092.9,437.0 2091.4,440.7 2090.3,441.9 2088.7,442.9 2086.6,444.0 2084.0,445.2 2079.5,446.4 2075.9,446.4 2072.3,446.2 2069.3,445.8 2066.3,445.7 2063.3,445.8 2060.1,445.6 2056.8,445.3 2053.6,445.6 2051.0,445.8 2048.4,445.7 2045.8,445.2 2043.2,444.9 2040.4,444.7 2037.6,444.5 2034.8,444.4 2032.0,444.8 2029.3,444.9 2026.6,444.5 2023.8,443.8 2021.1,443.7 2018.2,443.8 2015.4,443.5 2012.5,443.0 2009.7,442.8 2006.9,442.8 2004.1,442.5 2001.2,442.1 1998.4,442.0 1995.6,441.7 1992.8,441.2 1990.0,440.8 1986.6,440.4 1986.0,440.1 1984.3,440.0 1979.8,440.0 1977.0,440.2 1974.3,440.1 1971.5,439.8 1968.7,439.6 1966.1,439.6 1963.5,439.7 1960.9,440.0 1958.4,440.6 1955.8,440.8 1953.2,440.6 1950.6,440.1 1947.9,440.2 1945.3,440.3 1942.7,439.7 1940.2,438.7 1937.6,438.1 1932.7,438.7 1927.9,438.6 1923.6,438.7 1920.1,435.9 1917.1,433.9 1914.3,434.2 1911.9,434.7 1909.7,433.9 1906.6,432.2 1901.9,431.1 1899.2,430.4 1896.5,429.5 1893.7,428.9 1891.0,428.4 1888.4,427.9 1885.8,427.4 1883.2,426.9 1880.7,426.4 1878.1,425.8 1875.5,425.0 1872.9,424.3 1870.3,423.5 1867.7,422.8 1865.1,422.2 1862.5,421.6 1859.9,421.0 1857.3,420.0 1854.8,419.1 1852.2,418.1 1849.6,417.0 1847.0,415.5 1844.4,414.3 1841.9,413.7 1839.3,413.1 1836.8,412.0 1834.3,410.5 1831.6,409.0 1828.9,407.9 1825.7,406.3 1822.5,404.7 1819.2,403.4 1815.8,401.8 1813.0,399.9 1810.2,398.4 1806.4,397.0 1803.6,395.1 1800.9,389.3 1800.0,386.2 1799.1,383.2 1798.2,380.4 1797.5,377.7 1796.9,375.1 1796.2,372.4 1795.6,369.8 1794.9,367.0 1794.1,364.1 1793.4,361.2 1792.7,358.3 1792.0,355.7 1791.3,353.2 1790.7,350.6 1790.0,348.0 1789.3,345.4 1788.6,342.7 1787.8,339.9 1787.1,337.1 1786.3,334.2 1785.6,331.3 1784.8,328.5 1784.1,325.7 1783.3,322.8 1782.6,320.0 1781.8,317.2 1781.0,314.5 1780.2,311.8 1779.5,309.2 1778.7,306.6 1777.9,304.1 1777.1,301.7 1776.3,299.2 1775.5,296.8 1774.7,294.3 1773.9,291.8 1773.0,289.2 1772.1,286.6 1771.3,284.0 1770.4,281.4 1769.2,278.1 1768.0,274.7 1766.1,270.1 1764.2,265.8 1762.2,261.1 1760.2,257.2 1758.5,254.6 1757.3,253.0 1756.4,252.2 1755.4,251.3 1754.2,250.0 1752.8,248.6 1751.3,247.5 1749.6,247.0 1747.7,247.2 1745.7,247.8 1743.5,248.4 1741.2,248.4 1738.8,248.4 1736.6,249.0 1734.3,249.5 1731.9,249.2 1729.3,248.1 1726.5,247.4 1723.6,248.0 1720.9,248.4 1718.1,247.6 1715.4,246.6 1712.5,244.9 1709.6,242.2 1707.1,240.3 1705.0,240.3 1703.3,241.4 1701.5,242.8 1699.7,243.7 1697.9,243.9 1696.0,243.5 1694.3,242.7 1692.5,242.2 1690.5,242.7 1687.9,244.2 1685.1,245.7 1682.2,246.9 1679.4,247.5 1676.7,248.3 1673.9,249.6 1671.3,251.4 1668.6,252.9 1665.6,253.6 1662.1,254.2 1658.3,253.7 1654.6,252.4 1651.3,252.7 1648.1,252.5 1644.9,251.1 1641.7,250.5 1638.5,250.4 1635.2,248.8 1632.1,247.8 1628.9,248.6 1625.6,248.6 1621.9,247.9 1618.1,250.2 1614.5,251.8 1611.6,250.9 1609.0,249.7 1606.2,248.7 1603.1,246.9 1599.7,245.2 1596.6,244.5 1593.7,244.0 1591.0,243.1 1588.3,242.4 1585.3,242.9 1582.3,244.3 1580.0,245.4 1579.3,246.1 1579.4,246.9 1578.2,248.0 1574.6,248.7 1569.6,249.3 1564.7,251.5 1560.3,251.6 1555.9,252.7 1551.2,252.2 1548.6,251.1 1546.0,250.9 1543.3,250.2 1540.5,248.4 1535.5,246.9 1531.5,246.7 1528.0,244.1 1524.3,243.1 1520.0,242.8 1515.4,242.4 1510.8,244.4 1506.7,245.7 1502.5,246.0 1499.9,246.1 1497.4,246.2 1493.9,246.6 1490.4,247.9 1487.7,248.0 1485.0,247.5 1482.4,247.2 1478.6,246.9 1474.9,246.7 1471.7,246.2 1468.6,245.7 1465.7,245.3 1462.8,245.5 1459.9,245.9 1456.9,245.0 1453.6,243.6 1450.3,243.3 1447.0,243.3 1443.6,243.0 1439.0,242.9" fill="none" stroke="#000" stroke-opacity="0.5" stroke-width="2.8" stroke-linejoin="round"/>
<polyline points="1439.0,239.5 1442.6,239.4 1447.6,239.3 1452.5,239.5 1455.9,240.2 1459.2,241.1 1463.7,241.8 1470.3,241.9 1478.2,241.7 1486.1,241.3 1493.9,240.5 1501.6,239.5 1508.6,238.6 1514.2,238.0 1519.1,237.5 1524.3,237.3 1530.3,237.6 1536.5,238.2 1542.3,238.6 1546.9,238.6 1551.1,238.4 1555.7,238.2 1561.8,237.9 1568.4,237.6 1573.7,237.3 1576.6,237.0 1578.2,236.7 1580.0,236.4 1582.6,236.1 1585.5,235.7 1588.3,235.7 1590.9,236.2 1593.6,236.9 1596.6,237.8 1600.2,238.9 1604.0,240.2 1607.6,241.2 1610.5,241.8 1613.1,242.0 1615.9,241.9 1619.0,241.6 1622.3,241.0 1625.6,240.6 1628.9,240.2 1632.2,239.9 1635.2,239.9 1637.7,240.1 1639.8,240.7 1642.2,241.2 1645.1,242.0 1648.4,242.8 1651.8,243.3 1655.5,243.5 1659.3,243.5 1662.9,243.3 1665.8,242.8 1668.5,242.1 1671.2,241.2 1673.9,240.3 1676.6,239.4 1679.4,238.5 1682.6,237.7 1685.8,237.0 1689.1,236.4 1692.5,236.1 1695.9,235.8 1698.8,235.7 1700.9,235.6 1702.5,235.5 1704.3,235.7 1706.5,236.5 1708.9,237.5 1711.2,238.5 1713.5,239.4 1715.7,240.1 1718.1,240.6 1720.9,240.2 1723.8,239.6 1726.4,239.2 1728.4,239.5 1730.0,240.0 1731.9,240.6 1734.5,240.9 1737.5,241.2 1740.2,241.2 1742.7,240.8 1744.9,240.2 1747.1,239.9 1749.3,240.1 1751.3,240.6 1753.3,241.5 1755.4,242.7 1757.5,244.2 1759.6,246.2 1761.6,248.6 1763.7,251.5 1765.8,255.1 1768.1,259.6 1770.5,264.8 1772.7,270.2 1774.7,276.0 1776.6,281.9 1778.2,286.8 1779.4,290.0 1780.2,292.2 1781.0,295.0 1781.5,299.0 1781.9,303.5 1782.7,308.2 1784.2,312.7 1786.1,317.3 1788.2,321.8 1790.3,326.1 1792.5,330.3 1795.0,334.0 1797.5,337.1 1800.1,339.8 1803.1,341.5 1806.4,341.9 1810.1,341.4 1814.0,340.8 1818.3,340.4 1823.0,339.9 1827.6,339.4 1832.1,339.1 1836.6,338.9 1841.2,338.8 1846.2,338.8 1851.3,339.1 1856.2,339.2 1860.4,339.2 1864.3,339.1 1868.4,338.8 1872.8,338.0 1877.4,337.0 1882.0,336.0 1886.6,335.2 1891.3,334.4 1895.6,333.7 1899.5,333.0 1903.1,332.3 1906.5,332.0 1909.8,332.0 1912.9,332.2 1916.0,332.6 1919.1,333.1 1922.2,333.7 1925.5,334.7 1928.9,336.2 1932.5,338.1 1936.4,339.4 1940.7,339.9 1945.4,339.8 1950.0,339.4 1954.7,338.7 1959.4,337.6 1963.6,336.7 1967.0,336.1 1970.0,335.6 1973.1,335.6 1976.5,336.6 1980.1,338.0 1984.0,339.4 1988.3,340.7 1993.0,341.9 1997.6,342.8 2002.1,343.5 2006.7,343.9 2011.2,344.2 2015.7,344.3 2020.3,344.3 2024.8,344.2 2029.3,344.0 2033.9,343.8 2038.4,343.5 2042.9,343.2 2047.5,342.8 2052.0,342.8 2056.6,343.5 2061.3,344.6 2065.6,345.6 2069.5,346.2 2073.1,346.8 2076.5,346.9 2079.9,346.7 2083.1,346.1 2086.0,344.9 2088.5,342.8 2090.6,340.1 2092.8,336.7 2095.1,332.7 2097.4,328.1 2099.6,323.1 2101.6,317.5 2103.5,311.6 2105.0,306.8 2106.0,304.5 2106.8,303.2 2107.8,300.0 2109.3,293.2 2111.2,284.5 2113.2,276.3 2115.2,269.5 2117.4,263.2 2119.4,257.7 2121.1,252.8 2122.7,248.7 2124.6,245.2 2126.8,242.5 2129.2,240.5 2131.8,239.0 2134.6,238.1 2137.5,237.8 2140.1,238.0 2142.3,238.6 2144.2,239.7 2146.3,241.1 2148.9,243.1 2151.8,245.4 2154.6,247.3 2157.3,248.5 2160.0,249.3 2162.9,249.4 2166.2,248.5 2169.7,247.0 2173.3,245.2 2176.8,243.2 2180.3,240.9 2183.6,239.0 2186.4,237.6 2188.9,236.5 2191.9,235.9 2195.6,235.9 2199.7,236.4 2204.4,236.9 2209.9,237.5 2215.9,238.2 2220.9,239.0 2224.0,240.0 2226.2,241.1 2229.2,242.1 2234.4,243.0 2240.4,243.9 2245.8,244.2 2249.7,243.8 2252.9,243.0 2256.2,242.1 2259.9,241.4 2263.6,240.7 2266.5,240.1 2267.9,239.8 2268.6,239.7 2270.0,239.2 2272.9,238.0 2276.7,236.5 2280.4,235.0 2283.8,233.7 2287.3,232.5 2290.7,231.9 2294.2,232.1 2297.6,232.9 2301.1,233.8 2304.5,234.6 2307.8,235.5 2311.5,236.3 2315.4,236.7 2319.7,237.0 2323.9,237.3 2328.0,237.7 2332.2,238.1 2336.3,238.5 2340.5,238.9 2344.6,239.4 2348.8,240.0 2352.9,241.0 2357.0,242.3 2361.2,243.3 2365.3,244.1 2369.5,244.8 2373.6,245.0 2377.9,244.5 2382.2,243.5 2386.1,242.5 2389.1,241.5 2391.7,240.5 2394.4,239.8 2397.0,239.4 2399.6,239.3 2402.6,239.6 2406.6,240.5 2410.9,241.9 2415.1,243.1 2418.7,244.0 2422.1,244.8 2425.4,245.2 2429.2,244.9 2432.9,244.3 2435.8,243.7 2437.3,243.4 2437.9,243.2 2438.3,243.1" stroke="#0000ff" stroke-width="4.8" stroke-dasharray="15.5 14.5"/>
<polyline points="1440.1,269.6 1444.4,269.5 1450.6,269.4 1456.9,269.6 1462.3,270.4 1467.9,271.4 1474.9,272.3 1484.5,272.8 1495.7,273.1 1506.3,273.0 1515.5,272.1 1524.1,270.8 1533.3,269.6 1544.0,268.7 1555.3,268.0 1564.7,267.4 1571.2,266.7 1575.9,266.2 1580.0,266.1 1583.5,266.4 1586.3,267.2 1589.7,268.2 1593.9,269.7 1598.6,271.6 1603.5,273.0 1608.5,273.9 1613.7,274.4 1618.7,274.4 1623.3,273.7 1627.8,272.6 1632.5,271.6 1637.4,271.2 1642.6,270.9 1647.7,270.9 1652.8,271.4 1657.9,272.1 1662.9,272.3 1667.6,271.7 1672.1,270.6 1676.7,269.6 1681.2,268.8 1685.7,268.2 1690.5,267.5 1695.9,266.4 1701.6,265.2 1707.1,264.7 1711.8,265.7 1716.3,267.4 1720.9,268.9 1726.0,269.7 1731.2,270.1 1736.1,270.2 1740.5,269.7 1744.5,268.7 1747.8,268.2 1749.9,268.2 1751.2,268.7 1752.7,270.2 1754.4,273.2 1756.3,277.1 1758.2,281.3 1760.1,285.4 1762.1,289.9 1763.7,295.0 1764.3,300.2 1764.5,306.2 1765.8,314.4 1768.9,326.3 1773.1,340.5 1777.2,355.4 1781.2,372.3 1785.1,389.9 1788.0,402.0 1789.3,403.8 1789.5,400.2 1790.0,399.3 1791.4,405.2 1793.0,413.7 1794.7,421.1 1796.2,425.6 1797.7,428.9 1799.3,432.0 1801.2,435.4 1803.3,438.7 1805.5,441.3 1807.7,443.0 1810.1,444.1 1813.3,444.7 1817.9,444.8 1823.4,444.4 1828.9,444.1 1834.0,443.9 1839.2,443.7 1844.4,443.6 1849.6,443.6 1854.8,443.7 1859.9,443.6 1865.1,443.3 1870.3,442.9 1875.5,442.5 1880.7,442.1 1885.8,441.7 1891.0,441.3 1896.2,440.9 1901.4,440.7 1906.6,440.5 1911.7,440.5 1916.9,440.7 1922.1,441.0 1927.3,441.5 1932.5,442.2 1937.6,442.8 1942.8,443.4 1948.0,443.8 1953.2,444.1 1958.4,444.0 1963.5,443.8 1968.7,443.6 1974.3,443.6 1979.8,443.6 1984.3,443.6 1986.0,443.6 1986.6,443.6 1990.0,443.6 1998.4,443.9 2009.7,444.2 2021.1,444.4 2032.0,444.5 2043.0,444.5 2053.6,444.4 2064.2,444.5 2074.3,444.6 2082.1,444.4 2086.0,444.0 2087.5,443.4 2088.8,442.4 2090.3,441.6 2091.7,440.5 2093.4,437.2 2095.8,431.0 2098.5,422.6 2101.2,412.3 2103.8,399.9 2106.4,385.7 2108.9,370.9 2111.8,354.0 2114.6,336.6 2116.7,324.3 2117.7,321.5 2117.9,323.9 2118.3,324.0 2119.3,318.4 2120.4,310.6 2121.5,303.3 2122.5,297.3 2123.5,291.8 2124.6,286.7 2125.5,282.1 2126.4,277.9 2127.7,274.2 2129.4,271.0 2131.5,268.2 2133.9,266.0 2136.6,264.3 2139.5,263.2 2142.2,262.8 2144.4,263.3 2146.4,264.5 2148.4,266.0 2150.4,267.9 2152.4,270.1 2154.6,272.2 2157.2,273.9 2160.1,275.5 2162.9,276.3 2165.7,276.2 2168.4,275.3 2171.2,274.2 2174.0,273.0 2176.7,271.6 2179.5,270.1 2182.2,268.6 2185.0,267.2 2187.8,266.0 2190.5,265.1 2193.3,264.6 2196.1,264.3 2198.7,264.3 2201.4,264.6 2204.4,264.9 2207.7,265.1 2211.2,265.4 2214.7,266.0 2218.1,267.2 2221.5,268.8 2225.1,270.1 2229.2,271.0 2233.6,271.7 2237.5,272.2 2240.5,272.4 2243.0,272.3 2245.8,272.2 2249.1,272.0 2252.6,271.7 2256.2,271.1 2259.9,270.2 2263.6,269.0 2266.5,268.0 2267.9,267.4 2268.6,266.9 2270.0,266.3 2272.9,265.4 2276.7,264.3 2280.4,263.2 2283.8,262.0 2287.3,260.8 2290.7,260.1 2294.2,260.3 2297.6,261.2 2301.1,262.2 2304.5,263.3 2307.8,264.7 2311.5,265.9 2315.4,266.9 2319.7,267.7 2323.9,268.4 2328.0,268.9 2332.2,269.2 2336.3,269.4 2340.5,269.6 2344.6,269.8 2348.8,270.1 2352.9,270.6 2357.0,271.2 2361.2,271.5 2365.3,271.1 2369.5,270.3 2373.6,269.4 2377.9,268.7 2382.2,268.0 2386.1,267.4 2389.1,266.8 2391.7,266.4 2394.4,266.3 2397.0,266.7 2399.6,267.4 2402.6,268.4 2406.6,270.0 2410.9,272.0 2415.1,273.6 2418.7,274.3 2422.1,274.6 2425.4,274.6 2429.2,274.1 2432.9,273.2 2435.8,272.5 2437.3,272.3 2437.9,272.2 2438.3,272.1" stroke="#008000" stroke-width="5" stroke-dasharray="15.8 14.2"/>
<polyline points="1439.0,240.4 1442.6,240.3 1447.6,240.2 1452.5,240.4 1455.9,241.1 1459.2,242.0 1463.7,242.7 1470.3,242.8 1478.2,242.6 1486.1,242.2 1493.9,241.7 1501.6,241.1 1508.6,240.4 1514.2,239.7 1519.1,239.0 1524.3,238.6 1530.3,238.8 1536.5,239.4 1542.3,240.0 1546.9,240.4 1551.1,240.7 1555.7,240.9 1561.8,240.7 1568.4,240.4 1573.7,240.0 1576.6,239.3 1578.2,238.5 1580.0,237.8 1582.6,237.3 1585.5,237.1 1588.3,237.1 1590.9,237.5 1593.6,238.3 1596.6,239.2 1600.2,240.3 1604.0,241.6 1607.6,242.6 1610.5,243.1 1613.1,243.3 1615.9,243.3 1619.0,243.0 1622.3,242.4 1625.6,241.9 1628.9,241.6 1632.2,241.3 1635.2,241.2 1637.7,241.5 1639.8,242.0 1642.2,242.6 1645.1,243.3 1648.4,244.1 1651.8,244.7 1655.5,244.9 1659.3,244.9 1662.9,244.7 1665.8,244.2 1668.5,243.4 1671.2,242.6 1673.9,241.7 1676.6,240.8 1679.4,239.9 1682.6,239.1 1685.8,238.4 1689.1,237.8 1692.5,237.4 1695.9,237.2 1698.8,237.1 1700.9,236.9 1702.5,236.9 1704.3,237.1 1706.5,237.8 1708.9,238.9 1711.2,239.9 1713.5,240.7 1715.7,241.5 1718.1,241.9 1720.9,241.6 1723.8,240.9 1726.4,240.6 1728.4,240.8 1730.0,241.4 1731.9,241.9 1734.5,242.3 1737.5,242.6 1740.2,242.6 1742.7,242.2 1745.0,241.6 1747.1,241.2 1749.1,241.4 1750.9,241.9 1752.7,242.6 1754.5,243.6 1756.3,245.0 1758.2,246.8 1760.0,249.0 1761.8,251.6 1763.7,255.1 1766.0,259.6 1768.4,264.8 1770.6,270.2 1772.7,276.0 1774.5,281.9 1776.1,286.8 1777.2,289.7 1778.0,291.7 1778.9,295.0 1779.9,300.0 1781.0,306.4 1782.9,315.0 1786.0,327.1 1789.9,341.6 1793.7,355.4 1797.2,368.4 1800.7,380.7 1804.0,390.0 1806.9,394.4 1809.8,395.6 1813.3,397.0 1818.0,399.6 1823.4,402.2 1828.9,404.8 1834.0,407.2 1839.2,409.5 1844.4,411.8 1849.6,414.0 1854.8,416.1 1859.9,418.0 1865.1,419.5 1870.3,420.7 1875.5,421.9 1880.7,423.0 1885.8,424.0 1891.0,425.0 1896.2,426.0 1901.4,427.0 1906.6,428.1 1911.7,429.3 1916.9,430.7 1922.1,432.0 1927.3,433.1 1932.5,434.2 1937.6,435.1 1942.8,435.8 1948.0,436.3 1953.2,436.6 1958.4,436.7 1963.5,436.6 1968.7,436.6 1974.3,436.8 1979.8,437.1 1984.3,437.4 1986.0,437.7 1986.6,438.0 1990.0,438.5 1998.4,439.2 2009.7,440.0 2021.1,440.8 2032.0,441.4 2043.2,442.0 2053.6,442.4 2063.3,442.6 2072.4,442.6 2079.5,442.4 2083.7,442.0 2085.9,441.4 2087.7,440.3 2089.2,439.3 2090.3,437.8 2091.8,434.1 2094.1,427.2 2096.9,418.0 2099.6,407.1 2102.2,394.6 2104.8,380.4 2107.4,365.7 2109.9,350.6 2112.5,334.8 2115.1,319.1 2117.9,302.2 2120.8,285.4 2122.9,272.5 2123.8,266.4 2124.1,264.3 2124.6,261.8 2125.5,257.1 2126.5,251.9 2127.7,247.3 2129.0,243.6 2130.4,240.5 2131.8,238.0 2133.2,236.3 2134.6,235.2 2136.0,234.5 2137.2,233.8 2138.4,233.5 2140.1,233.8 2142.6,235.1 2145.6,236.9 2148.4,239.0 2150.9,241.4 2153.3,244.0 2155.6,246.3 2158.1,248.1 2160.5,249.6 2162.9,250.4 2165.3,250.2 2167.7,249.3 2170.2,248.3 2172.3,247.5 2174.5,246.5 2177.4,245.2 2181.8,243.1 2187.0,240.7 2191.9,239.0 2196.3,238.8 2200.4,239.4 2204.4,240.1 2208.0,240.3 2211.3,240.5 2214.7,241.1 2218.1,242.3 2221.5,243.9 2225.1,245.2 2229.2,246.2 2233.6,246.8 2237.5,247.3 2240.5,247.5 2243.0,247.5 2245.8,247.3 2249.1,246.8 2252.6,246.0 2256.2,245.2 2259.9,244.5 2263.6,243.8 2266.5,243.2 2267.9,242.7 2268.6,242.2 2270.0,241.5 2272.9,240.2 2276.7,238.7 2280.4,237.3 2283.8,236.0 2287.3,234.7 2290.7,234.2 2294.2,234.8 2297.6,236.1 2301.1,237.3 2304.5,238.1 2307.8,238.8 2311.5,239.4 2315.4,239.8 2319.7,240.1 2323.9,240.4 2328.0,240.7 2332.2,241.0 2336.3,241.5 2340.5,242.0 2344.6,242.7 2348.8,243.5 2352.9,244.5 2357.0,245.6 2361.2,246.6 2365.3,247.6 2369.5,248.4 2373.6,248.7 2377.9,248.4 2382.2,247.6 2386.1,246.6 2389.1,245.6 2391.7,244.4 2394.4,243.5 2397.0,242.9 2399.6,242.4 2402.6,242.5 2406.6,243.3 2410.9,244.5 2415.1,245.6 2418.7,246.5 2422.1,247.3 2425.4,247.7 2429.2,247.3 2432.9,246.6 2435.8,246.0 2437.3,245.8 2437.9,245.7 2438.3,245.6" stroke="#bf00bf" stroke-width="5.4"/>
<line x1="1440.2" y1="428.5" x2="2438" y2="428.5" stroke="#000" stroke-width="5" stroke-dasharray="15.15 15.15"/>
</g>
<rect x="1410.3" y="82.3" width="1067.7" height="394.2" fill="none" stroke="#000" stroke-width="2.6"/>
<line x1="1440.2" y1="476.5" x2="1440.2" y2="466.0" stroke="#000" stroke-width="1.3" />
<line x1="1440.2" y1="82.3" x2="1440.2" y2="92.8" stroke="#000" stroke-width="1.3" />
<text x="1443.2" y="516.5" font-size="40" text-anchor="middle" fill="#000" >0</text>
<line x1="1606.5" y1="476.5" x2="1606.5" y2="466.0" stroke="#000" stroke-width="1.3" />
<line x1="1606.5" y1="82.3" x2="1606.5" y2="92.8" stroke="#000" stroke-width="1.3" />
<text x="1609.5" y="516.5" font-size="40" text-anchor="middle" fill="#000" >250</text>
<line x1="1772.8" y1="476.5" x2="1772.8" y2="466.0" stroke="#000" stroke-width="1.3" />
<line x1="1772.8" y1="82.3" x2="1772.8" y2="92.8" stroke="#000" stroke-width="1.3" />
<text x="1775.8" y="516.5" font-size="40" text-anchor="middle" fill="#000" >500</text>
<line x1="1939.1" y1="476.5" x2="1939.1" y2="466.0" stroke="#000" stroke-width="1.3" />
<line x1="1939.1" y1="82.3" x2="1939.1" y2="92.8" stroke="#000" stroke-width="1.3" />
<text x="1942.1" y="516.5" font-size="40" text-anchor="middle" fill="#000" >750</text>
<line x1="2105.4" y1="476.5" x2="2105.4" y2="466.0" stroke="#000" stroke-width="1.3" />
<line x1="2105.4" y1="82.3" x2="2105.4" y2="92.8" stroke="#000" stroke-width="1.3" />
<text x="2108.4" y="516.5" font-size="40" text-anchor="middle" fill="#000" >1000</text>
<line x1="2271.7" y1="476.5" x2="2271.7" y2="466.0" stroke="#000" stroke-width="1.3" />
<line x1="2271.7" y1="82.3" x2="2271.7" y2="92.8" stroke="#000" stroke-width="1.3" />
<text x="2274.7" y="516.5" font-size="40" text-anchor="middle" fill="#000" >1250</text>
<line x1="2438.0" y1="476.5" x2="2438.0" y2="466.0" stroke="#000" stroke-width="1.3" />
<line x1="2438.0" y1="82.3" x2="2438.0" y2="92.8" stroke="#000" stroke-width="1.3" />
<text x="2441.0" y="516.5" font-size="40" text-anchor="middle" fill="#000" >1500</text>
<line x1="1410.3" y1="465.3" x2="1420.8" y2="465.3" stroke="#000" stroke-width="1.3" />
<line x1="2478.0" y1="465.3" x2="2467.5" y2="465.3" stroke="#000" stroke-width="1.3" />
<text x="1406.2" y="479.9" font-size="40" text-anchor="end" fill="#000" >0</text>
<line x1="1410.3" y1="391.6" x2="1420.8" y2="391.6" stroke="#000" stroke-width="1.3" />
<line x1="2478.0" y1="391.6" x2="2467.5" y2="391.6" stroke="#000" stroke-width="1.3" />
<text x="1406.2" y="406.2" font-size="40" text-anchor="end" fill="#000" >10</text>
<line x1="1410.3" y1="317.9" x2="1420.8" y2="317.9" stroke="#000" stroke-width="1.3" />
<line x1="2478.0" y1="317.9" x2="2467.5" y2="317.9" stroke="#000" stroke-width="1.3" />
<text x="1406.2" y="332.5" font-size="40" text-anchor="end" fill="#000" >20</text>
<line x1="1410.3" y1="244.2" x2="1420.8" y2="244.2" stroke="#000" stroke-width="1.3" />
<line x1="2478.0" y1="244.2" x2="2467.5" y2="244.2" stroke="#000" stroke-width="1.3" />
<text x="1406.2" y="258.8" font-size="40" text-anchor="end" fill="#000" >30</text>
<line x1="1410.3" y1="170.5" x2="1420.8" y2="170.5" stroke="#000" stroke-width="1.3" />
<line x1="2478.0" y1="170.5" x2="2467.5" y2="170.5" stroke="#000" stroke-width="1.3" />
<text x="1406.2" y="185.1" font-size="40" text-anchor="end" fill="#000" >40</text>
<line x1="1410.3" y1="96.8" x2="1420.8" y2="96.8" stroke="#000" stroke-width="1.3" />
<line x1="2478.0" y1="96.8" x2="2467.5" y2="96.8" stroke="#000" stroke-width="1.3" />
<text x="1406.2" y="111.4" font-size="40" text-anchor="end" fill="#000" >50</text>
<text x="1945.0" y="560.3" font-size="40" text-anchor="middle" fill="#000" >Time (ms)</text>
<text transform="translate(1340.5,270.2) rotate(-90)" text-anchor="middle" font-size="40.7">Rate SNr (spikes/s)</text>
<text x="1553.3" y="356.3" font-size="50" font-family='"DejaVu Sans Condensed", "DejaVu Sans", sans-serif' fill="#008000">ref</text>
<text x="1614.0" y="331.8" font-size="36.2" fill="#008000">MSN<tspan font-size="22.8" dy="10.2" dx="2.4">D</tspan><tspan font-size="24.5" dx="1.6" font-family='"Liberation Serif", "DejaVu Serif", serif'>1</tspan></text>
<text x="1613.9" y="371.3" font-size="31.4" fill="#008000">max</text>
<text x="1864.9" y="285.5" font-size="50" font-family='"DejaVu Sans Condensed", "DejaVu Sans", sans-serif' fill="#0000ff">ref</text>
<text x="1925.1" y="256.3" font-size="36.2" fill="#0000ff">MSN<tspan font-size="22.8" dy="10.2" dx="2.4">D</tspan><tspan font-size="24.5" dx="1.6" font-family='"Liberation Serif", "DejaVu Serif", serif'>1</tspan></text>
<text x="1924.5" y="304.6" font-size="34.5" fill="#0000ff">init</text>
<text x="2150.2" y="198.2" font-size="50" font-family='"DejaVu Sans Condensed", "DejaVu Sans", sans-serif' fill="#bf00bf">fac</text>
<text x="2218.0" y="174.0" font-size="36.2" fill="#bf00bf">MSN<tspan font-size="22.8" dy="10.2" dx="2.4">D</tspan><tspan font-size="24.5" dx="1.6" font-family='"Liberation Serif", "DejaVu Serif", serif'>1</tspan></text>
<text x="2371" y="417" font-size="40" fill="#000">Thr</text>
</g>
<text transform="translate(1314.5,33.3) scale(1,1.03)" font-size="41.5" font-weight="bold" font-family='"Liberation Sans", sans-serif'>C</text>
</svg>
</body></html>
